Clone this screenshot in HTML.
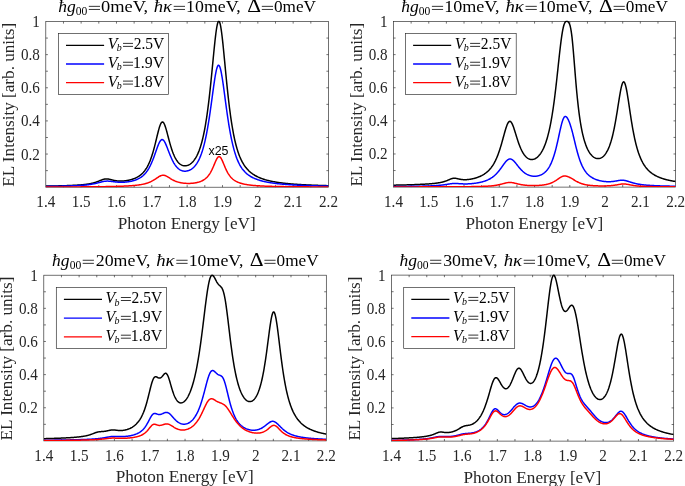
<!DOCTYPE html><html><head><meta charset="utf-8"><style>html,body{margin:0;padding:0;background:#fff;overflow:hidden}svg{display:block;filter:blur(0.3px)}text{font-family:"Liberation Serif",serif}</style></head><body>
<svg width="685" height="486" viewBox="0 0 685 486">
<rect width="685" height="486" fill="#fff"/><g opacity="0.999">
<clipPath id="cs1"><rect x="45.80" y="20.50" width="282.70" height="166.70"/></clipPath>
<rect x="45.80" y="21.50" width="282.70" height="165.70" fill="none" stroke="#262626" stroke-width="0.65"/>
<path d="M63.47 187.20v-2.1M63.47 21.50v2.1M81.14 187.20v-2.1M81.14 21.50v2.1M98.81 187.20v-2.1M98.81 21.50v2.1M116.47 187.20v-2.1M116.47 21.50v2.1M134.14 187.20v-2.1M134.14 21.50v2.1M151.81 187.20v-2.1M151.81 21.50v2.1M169.48 187.20v-2.1M169.48 21.50v2.1M187.15 187.20v-2.1M187.15 21.50v2.1M204.82 187.20v-2.1M204.82 21.50v2.1M222.49 187.20v-2.1M222.49 21.50v2.1M240.16 187.20v-2.1M240.16 21.50v2.1M257.83 187.20v-2.1M257.83 21.50v2.1M275.49 187.20v-2.1M275.49 21.50v2.1M293.16 187.20v-2.1M293.16 21.50v2.1M310.83 187.20v-2.1M310.83 21.50v2.1M45.80 170.63h2.1M328.50 170.63h-2.1M45.80 154.06h2.1M328.50 154.06h-2.1M45.80 137.49h2.1M328.50 137.49h-2.1M45.80 120.92h2.1M328.50 120.92h-2.1M45.80 104.35h2.1M328.50 104.35h-2.1M45.80 87.78h2.1M328.50 87.78h-2.1M45.80 71.21h2.1M328.50 71.21h-2.1M45.80 54.64h2.1M328.50 54.64h-2.1M45.80 38.07h2.1M328.50 38.07h-2.1" stroke="#262626" stroke-width="0.65" fill="none"/>
<polyline clip-path="url(#cs1)" points="45.80,186.13 46.24,186.12 46.68,186.12 47.13,186.11 47.57,186.10 48.01,186.09 48.45,186.08 48.89,186.08 49.33,186.07 49.78,186.06 50.22,186.05 50.66,186.04 51.10,186.03 51.54,186.02 51.98,186.02 52.43,186.01 52.87,186.00 53.31,185.99 53.75,185.98 54.19,185.97 54.63,185.96 55.08,185.95 55.52,185.94 55.96,185.93 56.40,185.92 56.84,185.91 57.28,185.90 57.73,185.89 58.17,185.88 58.61,185.86 59.05,185.85 59.49,185.84 59.94,185.83 60.38,185.82 60.82,185.81 61.26,185.79 61.70,185.78 62.14,185.77 62.59,185.75 63.03,185.74 63.47,185.73 63.91,185.71 64.35,185.70 64.79,185.69 65.24,185.67 65.68,185.66 66.12,185.64 66.56,185.63 67.00,185.61 67.44,185.59 67.89,185.58 68.33,185.56 68.77,185.54 69.21,185.53 69.65,185.51 70.09,185.49 70.54,185.47 70.98,185.45 71.42,185.43 71.86,185.41 72.30,185.39 72.74,185.37 73.19,185.35 73.63,185.33 74.07,185.30 74.51,185.28 74.95,185.26 75.40,185.23 75.84,185.21 76.28,185.18 76.72,185.16 77.16,185.13 77.60,185.10 78.05,185.07 78.49,185.04 78.93,185.01 79.37,184.98 79.81,184.95 80.25,184.91 80.70,184.88 81.14,184.84 81.58,184.80 82.02,184.77 82.46,184.73 82.90,184.68 83.35,184.64 83.79,184.59 84.23,184.55 84.67,184.50 85.11,184.45 85.55,184.40 86.00,184.34 86.44,184.28 86.88,184.22 87.32,184.16 87.76,184.09 88.21,184.03 88.65,183.95 89.09,183.88 89.53,183.80 89.97,183.72 90.41,183.63 90.86,183.54 91.30,183.45 91.74,183.35 92.18,183.25 92.62,183.14 93.06,183.03 93.51,182.91 93.95,182.79 94.39,182.66 94.83,182.53 95.27,182.39 95.71,182.25 96.16,182.10 96.60,181.95 97.04,181.79 97.48,181.62 97.92,181.45 98.36,181.28 98.81,181.10 99.25,180.92 99.69,180.74 100.13,180.56 100.57,180.38 101.01,180.21 101.46,180.03 101.90,179.86 102.34,179.70 102.78,179.55 103.22,179.41 103.67,179.29 104.11,179.18 104.55,179.09 104.99,179.01 105.43,178.96 105.87,178.92 106.32,178.91 106.76,178.91 107.20,178.94 107.64,178.98 108.08,179.03 108.52,179.10 108.97,179.18 109.41,179.27 109.85,179.37 110.29,179.48 110.73,179.59 111.17,179.70 111.62,179.81 112.06,179.92 112.50,180.03 112.94,180.13 113.38,180.23 113.82,180.33 114.27,180.42 114.71,180.51 115.15,180.59 115.59,180.66 116.03,180.73 116.48,180.79 116.92,180.85 117.36,180.90 117.80,180.94 118.24,180.98 118.68,181.01 119.13,181.03 119.57,181.05 120.01,181.06 120.45,181.07 120.89,181.07 121.33,181.06 121.78,181.05 122.22,181.03 122.66,181.01 123.10,180.98 123.54,180.95 123.98,180.91 124.43,180.87 124.87,180.82 125.31,180.77 125.75,180.71 126.19,180.65 126.63,180.58 127.08,180.51 127.52,180.43 127.96,180.35 128.40,180.26 128.84,180.17 129.28,180.07 129.73,179.97 130.17,179.86 130.61,179.74 131.05,179.62 131.49,179.49 131.94,179.36 132.38,179.22 132.82,179.07 133.26,178.92 133.70,178.75 134.14,178.59 134.59,178.41 135.03,178.22 135.47,178.03 135.91,177.82 136.35,177.61 136.79,177.39 137.24,177.15 137.68,176.91 138.12,176.65 138.56,176.38 139.00,176.09 139.44,175.79 139.89,175.47 140.33,175.14 140.77,174.79 141.21,174.43 141.65,174.04 142.09,173.63 142.54,173.20 142.98,172.75 143.42,172.27 143.86,171.76 144.30,171.23 144.75,170.66 145.19,170.07 145.63,169.44 146.07,168.77 146.51,168.07 146.95,167.33 147.40,166.55 147.84,165.72 148.28,164.85 148.72,163.93 149.16,162.96 149.60,161.94 150.05,160.86 150.49,159.73 150.93,158.53 151.37,157.28 151.81,155.97 152.25,154.60 152.70,153.16 153.14,151.66 153.58,150.11 154.02,148.49 154.46,146.82 154.90,145.10 155.35,143.34 155.79,141.54 156.23,139.71 156.67,137.88 157.11,136.04 157.55,134.23 158.00,132.45 158.44,130.74 158.88,129.11 159.32,127.59 159.76,126.20 160.21,124.97 160.65,123.93 161.09,123.09 161.53,122.48 161.97,122.09 162.41,121.95 162.86,122.06 163.30,122.40 163.74,122.97 164.18,123.75 164.62,124.73 165.06,125.89 165.51,127.19 165.95,128.62 166.39,130.14 166.83,131.74 167.27,133.39 167.71,135.07 168.16,136.76 168.60,138.44 169.04,140.11 169.48,141.74 169.92,143.34 170.36,144.88 170.81,146.37 171.25,147.80 171.69,149.18 172.13,150.48 172.57,151.73 173.02,152.91 173.46,154.03 173.90,155.08 174.34,156.07 174.78,157.00 175.22,157.87 175.67,158.69 176.11,159.45 176.55,160.15 176.99,160.81 177.43,161.41 177.87,161.97 178.32,162.49 178.76,162.96 179.20,163.39 179.64,163.78 180.08,164.13 180.52,164.44 180.97,164.72 181.41,164.97 181.85,165.18 182.29,165.36 182.73,165.51 183.17,165.63 183.62,165.72 184.06,165.79 184.50,165.83 184.94,165.84 185.38,165.82 185.82,165.78 186.27,165.72 186.71,165.63 187.15,165.51 187.59,165.38 188.03,165.21 188.48,165.02 188.92,164.81 189.36,164.57 189.80,164.30 190.24,164.01 190.68,163.69 191.13,163.34 191.57,162.96 192.01,162.56 192.45,162.12 192.89,161.65 193.33,161.15 193.78,160.61 194.22,160.04 194.66,159.43 195.10,158.78 195.54,158.08 195.98,157.34 196.43,156.56 196.87,155.73 197.31,154.84 197.75,153.90 198.19,152.90 198.63,151.85 199.08,150.73 199.52,149.54 199.96,148.28 200.40,146.94 200.84,145.53 201.29,144.03 201.73,142.44 202.17,140.76 202.61,138.99 203.05,137.11 203.49,135.13 203.94,133.03 204.38,130.82 204.82,128.49 205.26,126.03 205.70,123.44 206.14,120.71 206.59,117.84 207.03,114.83 207.47,111.67 207.91,108.37 208.35,104.91 208.79,101.30 209.24,97.54 209.68,93.64 210.12,89.59 210.56,85.41 211.00,81.12 211.44,76.71 211.89,72.22 212.33,67.67 212.77,63.08 213.21,58.50 213.65,53.95 214.09,49.48 214.54,45.15 214.98,41.00 215.42,37.09 215.86,33.49 216.30,30.25 216.75,27.43 217.19,25.08 217.63,23.24 218.07,21.97 218.51,21.27 218.95,21.18 219.40,21.69 219.84,22.79 220.28,24.46 220.72,26.66 221.16,29.35 221.60,32.48 222.05,36.00 222.49,39.84 222.93,43.95 223.37,48.27 223.81,52.74 224.25,57.31 224.70,61.94 225.14,66.59 225.58,71.21 226.02,75.78 226.46,80.27 226.90,84.67 227.35,88.95 227.79,93.10 228.23,97.12 228.67,100.99 229.11,104.72 229.56,108.29 230.00,111.72 230.44,115.00 230.88,118.13 231.32,121.11 231.76,123.96 232.21,126.67 232.65,129.24 233.09,131.69 233.53,134.02 233.97,136.23 234.41,138.33 234.86,140.32 235.30,142.21 235.74,144.00 236.18,145.70 236.62,147.32 237.06,148.85 237.51,150.30 237.95,151.67 238.39,152.98 238.83,154.22 239.27,155.39 239.71,156.51 240.16,157.57 240.60,158.58 241.04,159.54 241.48,160.46 241.92,161.32 242.36,162.15 242.81,162.94 243.25,163.69 243.69,164.41 244.13,165.09 244.57,165.75 245.02,166.37 245.46,166.97 245.90,167.54 246.34,168.09 246.78,168.62 247.22,169.12 247.67,169.60 248.11,170.06 248.55,170.51 248.99,170.94 249.43,171.35 249.87,171.75 250.32,172.13 250.76,172.49 251.20,172.85 251.64,173.19 252.08,173.52 252.52,173.84 252.97,174.14 253.41,174.44 253.85,174.72 254.29,175.00 254.73,175.27 255.17,175.53 255.62,175.78 256.06,176.02 256.50,176.25 256.94,176.48 257.38,176.70 257.83,176.92 258.27,177.12 258.71,177.32 259.15,177.52 259.59,177.71 260.03,177.89 260.48,178.07 260.92,178.24 261.36,178.41 261.80,178.58 262.24,178.74 262.68,178.89 263.13,179.04 263.57,179.19 264.01,179.33 264.45,179.47 264.89,179.60 265.33,179.74 265.78,179.86 266.22,179.99 266.66,180.11 267.10,180.23 267.54,180.35 267.98,180.46 268.43,180.57 268.87,180.68 269.31,180.78 269.75,180.88 270.19,180.98 270.63,181.08 271.08,181.17 271.52,181.27 271.96,181.36 272.40,181.45 272.84,181.53 273.29,181.62 273.73,181.70 274.17,181.78 274.61,181.86 275.05,181.94 275.49,182.01 275.94,182.09 276.38,182.16 276.82,182.23 277.26,182.30 277.70,182.37 278.14,182.43 278.59,182.50 279.03,182.56 279.47,182.62 279.91,182.69 280.35,182.75 280.79,182.80 281.24,182.86 281.68,182.92 282.12,182.97 282.56,183.03 283.00,183.08 283.44,183.13 283.89,183.18 284.33,183.23 284.77,183.28 285.21,183.33 285.65,183.38 286.10,183.43 286.54,183.47 286.98,183.52 287.42,183.56 287.86,183.60 288.30,183.65 288.75,183.69 289.19,183.73 289.63,183.77 290.07,183.81 290.51,183.85 290.95,183.88 291.40,183.92 291.84,183.96 292.28,183.99 292.72,184.03 293.16,184.06 293.60,184.10 294.05,184.13 294.49,184.17 294.93,184.20 295.37,184.23 295.81,184.26 296.25,184.29 296.70,184.32 297.14,184.35 297.58,184.38 298.02,184.41 298.46,184.44 298.90,184.47 299.35,184.50 299.79,184.53 300.23,184.55 300.67,184.58 301.11,184.60 301.56,184.63 302.00,184.66 302.44,184.68 302.88,184.71 303.32,184.73 303.76,184.75 304.21,184.78 304.65,184.80 305.09,184.82 305.53,184.85 305.97,184.87 306.41,184.89 306.86,184.91 307.30,184.93 307.74,184.95 308.18,184.97 308.62,184.99 309.06,185.01 309.51,185.03 309.95,185.05 310.39,185.07 310.83,185.09 311.27,185.11 311.71,185.13 312.16,185.15 312.60,185.16 313.04,185.18 313.48,185.20 313.92,185.22 314.37,185.23 314.81,185.25 315.25,185.27 315.69,185.28 316.13,185.30 316.57,185.32 317.02,185.33 317.46,185.35 317.90,185.36 318.34,185.38 318.78,185.39 319.22,185.41 319.67,185.42 320.11,185.44 320.55,185.45 320.99,185.46 321.43,185.48 321.87,185.49 322.32,185.51 322.76,185.52 323.20,185.53 323.64,185.55 324.08,185.56 324.52,185.57 324.97,185.58 325.41,185.60 325.85,185.61 326.29,185.62 326.73,185.63 327.17,185.64 327.62,185.66 328.06,185.67 328.50,185.68" fill="none" stroke="#000000" stroke-width="1.5" stroke-linejoin="round"/>
<polyline clip-path="url(#cs1)" points="45.80,186.41 46.24,186.41 46.68,186.40 47.13,186.40 47.57,186.39 48.01,186.38 48.45,186.38 48.89,186.37 49.33,186.36 49.78,186.36 50.22,186.35 50.66,186.34 51.10,186.34 51.54,186.33 51.98,186.32 52.43,186.32 52.87,186.31 53.31,186.30 53.75,186.29 54.19,186.29 54.63,186.28 55.08,186.27 55.52,186.26 55.96,186.25 56.40,186.25 56.84,186.24 57.28,186.23 57.73,186.22 58.17,186.21 58.61,186.20 59.05,186.19 59.49,186.18 59.94,186.17 60.38,186.16 60.82,186.16 61.26,186.15 61.70,186.14 62.14,186.12 62.59,186.11 63.03,186.10 63.47,186.09 63.91,186.08 64.35,186.07 64.79,186.06 65.24,186.05 65.68,186.04 66.12,186.02 66.56,186.01 67.00,186.00 67.44,185.99 67.89,185.97 68.33,185.96 68.77,185.95 69.21,185.93 69.65,185.92 70.09,185.90 70.54,185.89 70.98,185.87 71.42,185.86 71.86,185.84 72.30,185.82 72.74,185.81 73.19,185.79 73.63,185.77 74.07,185.75 74.51,185.74 74.95,185.72 75.40,185.70 75.84,185.68 76.28,185.66 76.72,185.63 77.16,185.61 77.60,185.59 78.05,185.57 78.49,185.54 78.93,185.52 79.37,185.49 79.81,185.46 80.25,185.44 80.70,185.41 81.14,185.38 81.58,185.35 82.02,185.32 82.46,185.28 82.90,185.25 83.35,185.22 83.79,185.18 84.23,185.14 84.67,185.10 85.11,185.06 85.55,185.02 86.00,184.97 86.44,184.93 86.88,184.88 87.32,184.83 87.76,184.78 88.21,184.72 88.65,184.67 89.09,184.61 89.53,184.55 89.97,184.48 90.41,184.42 90.86,184.35 91.30,184.28 91.74,184.20 92.18,184.13 92.62,184.05 93.06,183.97 93.51,183.88 93.95,183.79 94.39,183.70 94.83,183.61 95.27,183.51 95.71,183.41 96.16,183.31 96.60,183.20 97.04,183.09 97.48,182.98 97.92,182.87 98.36,182.75 98.81,182.64 99.25,182.52 99.69,182.41 100.13,182.29 100.57,182.17 101.01,182.06 101.46,181.95 101.90,181.84 102.34,181.74 102.78,181.64 103.22,181.54 103.67,181.46 104.11,181.38 104.55,181.31 104.99,181.25 105.43,181.20 105.87,181.16 106.32,181.13 106.76,181.11 107.20,181.10 107.64,181.10 108.08,181.11 108.52,181.13 108.97,181.16 109.41,181.19 109.85,181.23 110.29,181.28 110.73,181.33 111.17,181.38 111.62,181.44 112.06,181.50 112.50,181.56 112.94,181.62 113.38,181.68 113.82,181.74 114.27,181.80 114.71,181.85 115.15,181.91 115.59,181.96 116.03,182.00 116.48,182.05 116.92,182.09 117.36,182.12 117.80,182.16 118.24,182.19 118.68,182.21 119.13,182.23 119.57,182.25 120.01,182.26 120.45,182.27 120.89,182.28 121.33,182.28 121.78,182.28 122.22,182.27 122.66,182.26 123.10,182.24 123.54,182.22 123.98,182.20 124.43,182.17 124.87,182.14 125.31,182.11 125.75,182.07 126.19,182.02 126.63,181.97 127.08,181.92 127.52,181.87 127.96,181.81 128.40,181.74 128.84,181.67 129.28,181.60 129.73,181.52 130.17,181.44 130.61,181.35 131.05,181.26 131.49,181.16 131.94,181.06 132.38,180.95 132.82,180.84 133.26,180.72 133.70,180.59 134.14,180.46 134.59,180.32 135.03,180.17 135.47,180.02 135.91,179.86 136.35,179.69 136.79,179.51 137.24,179.32 137.68,179.12 138.12,178.91 138.56,178.69 139.00,178.46 139.44,178.22 139.89,177.96 140.33,177.69 140.77,177.40 141.21,177.10 141.65,176.78 142.09,176.45 142.54,176.09 142.98,175.72 143.42,175.32 143.86,174.91 144.30,174.47 144.75,174.00 145.19,173.52 145.63,173.00 146.07,172.46 146.51,171.88 146.95,171.28 147.40,170.65 147.84,169.98 148.28,169.27 148.72,168.54 149.16,167.76 149.60,166.95 150.05,166.10 150.49,165.21 150.93,164.28 151.37,163.32 151.81,162.31 152.25,161.26 152.70,160.18 153.14,159.06 153.58,157.90 154.02,156.71 154.46,155.50 154.90,154.26 155.35,153.01 155.79,151.75 156.23,150.48 156.67,149.23 157.11,147.99 157.55,146.79 158.00,145.63 158.44,144.53 158.88,143.51 159.32,142.57 159.76,141.74 160.21,141.03 160.65,140.45 161.09,140.01 161.53,139.72 161.97,139.58 162.41,139.60 162.86,139.78 163.30,140.10 163.74,140.56 164.18,141.16 164.62,141.87 165.06,142.69 165.51,143.60 165.95,144.59 166.39,145.63 166.83,146.73 167.27,147.85 167.71,149.00 168.16,150.16 168.60,151.31 169.04,152.46 169.48,153.59 169.92,154.69 170.36,155.77 170.81,156.81 171.25,157.82 171.69,158.79 172.13,159.72 172.57,160.61 173.02,161.46 173.46,162.27 173.90,163.04 174.34,163.76 174.78,164.45 175.22,165.09 175.67,165.69 176.11,166.26 176.55,166.79 176.99,167.28 177.43,167.74 177.87,168.17 178.32,168.56 178.76,168.92 179.20,169.25 179.64,169.55 180.08,169.82 180.52,170.06 180.97,170.28 181.41,170.47 181.85,170.64 182.29,170.79 182.73,170.91 183.17,171.00 183.62,171.08 184.06,171.14 184.50,171.17 184.94,171.18 185.38,171.18 185.82,171.15 186.27,171.11 186.71,171.04 187.15,170.96 187.59,170.85 188.03,170.73 188.48,170.59 188.92,170.43 189.36,170.24 189.80,170.04 190.24,169.82 190.68,169.57 191.13,169.31 191.57,169.02 192.01,168.71 192.45,168.37 192.89,168.01 193.33,167.62 193.78,167.20 194.22,166.75 194.66,166.27 195.10,165.76 195.54,165.22 195.98,164.64 196.43,164.02 196.87,163.37 197.31,162.67 197.75,161.93 198.19,161.14 198.63,160.30 199.08,159.41 199.52,158.47 199.96,157.47 200.40,156.41 200.84,155.28 201.29,154.09 201.73,152.83 202.17,151.50 202.61,150.10 203.05,148.61 203.49,147.05 203.94,145.39 204.38,143.65 204.82,141.82 205.26,139.89 205.70,137.87 206.14,135.75 206.59,133.53 207.03,131.20 207.47,128.77 207.91,126.24 208.35,123.60 208.79,120.86 209.24,118.03 209.68,115.10 210.12,112.09 210.56,108.99 211.00,105.83 211.44,102.61 211.89,99.36 212.33,96.08 212.77,92.81 213.21,89.56 213.65,86.38 214.09,83.28 214.54,80.31 214.98,77.50 215.42,74.89 215.86,72.53 216.30,70.43 216.75,68.66 217.19,67.22 217.63,66.16 218.07,65.50 218.51,65.24 218.95,65.39 219.40,65.95 219.84,66.91 220.28,68.25 220.72,69.95 221.16,71.98 221.60,74.29 222.05,76.86 222.49,79.64 222.93,82.59 223.37,85.69 223.81,88.89 224.25,92.15 224.70,95.46 225.14,98.78 225.58,102.08 226.02,105.36 226.46,108.58 226.90,111.74 227.35,114.83 227.79,117.83 228.23,120.74 228.67,123.56 229.11,126.28 229.56,128.89 230.00,131.40 230.44,133.81 230.88,136.12 231.32,138.33 231.76,140.43 232.21,142.45 232.65,144.36 233.09,146.19 233.53,147.92 233.97,149.58 234.41,151.14 234.86,152.64 235.30,154.05 235.74,155.39 236.18,156.67 236.62,157.88 237.06,159.03 237.51,160.11 237.95,161.14 238.39,162.12 238.83,163.05 239.27,163.93 239.71,164.76 240.16,165.55 240.60,166.31 241.04,167.02 241.48,167.70 241.92,168.34 242.36,168.95 242.81,169.54 243.25,170.09 243.69,170.62 244.13,171.12 244.57,171.60 245.02,172.06 245.46,172.50 245.90,172.92 246.34,173.32 246.78,173.70 247.22,174.07 247.67,174.42 248.11,174.76 248.55,175.08 248.99,175.39 249.43,175.69 249.87,175.98 250.32,176.25 250.76,176.52 251.20,176.78 251.64,177.02 252.08,177.26 252.52,177.49 252.97,177.71 253.41,177.93 253.85,178.13 254.29,178.33 254.73,178.53 255.17,178.71 255.62,178.90 256.06,179.07 256.50,179.24 256.94,179.41 257.38,179.56 257.83,179.72 258.27,179.87 258.71,180.02 259.15,180.16 259.59,180.29 260.03,180.43 260.48,180.56 260.92,180.68 261.36,180.80 261.80,180.92 262.24,181.04 262.68,181.15 263.13,181.26 263.57,181.37 264.01,181.47 264.45,181.57 264.89,181.67 265.33,181.76 265.78,181.86 266.22,181.95 266.66,182.04 267.10,182.12 267.54,182.21 267.98,182.29 268.43,182.37 268.87,182.45 269.31,182.52 269.75,182.60 270.19,182.67 270.63,182.74 271.08,182.81 271.52,182.88 271.96,182.95 272.40,183.01 272.84,183.07 273.29,183.13 273.73,183.19 274.17,183.25 274.61,183.31 275.05,183.37 275.49,183.42 275.94,183.48 276.38,183.53 276.82,183.58 277.26,183.63 277.70,183.68 278.14,183.73 278.59,183.78 279.03,183.82 279.47,183.87 279.91,183.91 280.35,183.96 280.79,184.00 281.24,184.04 281.68,184.08 282.12,184.13 282.56,184.17 283.00,184.20 283.44,184.24 283.89,184.28 284.33,184.32 284.77,184.35 285.21,184.39 285.65,184.42 286.10,184.46 286.54,184.49 286.98,184.52 287.42,184.55 287.86,184.59 288.30,184.62 288.75,184.65 289.19,184.68 289.63,184.71 290.07,184.74 290.51,184.76 290.95,184.79 291.40,184.82 291.84,184.85 292.28,184.87 292.72,184.90 293.16,184.93 293.60,184.95 294.05,184.98 294.49,185.00 294.93,185.02 295.37,185.05 295.81,185.07 296.25,185.09 296.70,185.12 297.14,185.14 297.58,185.16 298.02,185.18 298.46,185.20 298.90,185.22 299.35,185.24 299.79,185.26 300.23,185.28 300.67,185.30 301.11,185.32 301.56,185.34 302.00,185.36 302.44,185.38 302.88,185.40 303.32,185.41 303.76,185.43 304.21,185.45 304.65,185.47 305.09,185.48 305.53,185.50 305.97,185.52 306.41,185.53 306.86,185.55 307.30,185.56 307.74,185.58 308.18,185.59 308.62,185.61 309.06,185.62 309.51,185.64 309.95,185.65 310.39,185.67 310.83,185.68 311.27,185.69 311.71,185.71 312.16,185.72 312.60,185.73 313.04,185.75 313.48,185.76 313.92,185.77 314.37,185.79 314.81,185.80 315.25,185.81 315.69,185.82 316.13,185.83 316.57,185.85 317.02,185.86 317.46,185.87 317.90,185.88 318.34,185.89 318.78,185.90 319.22,185.91 319.67,185.92 320.11,185.93 320.55,185.94 320.99,185.96 321.43,185.97 321.87,185.98 322.32,185.99 322.76,186.00 323.20,186.01 323.64,186.01 324.08,186.02 324.52,186.03 324.97,186.04 325.41,186.05 325.85,186.06 326.29,186.07 326.73,186.08 327.17,186.09 327.62,186.10 328.06,186.10 328.50,186.11" fill="none" stroke="#0000ff" stroke-width="1.5" stroke-linejoin="round"/>
<polyline clip-path="url(#cs1)" points="45.80,187.01 46.24,187.01 46.68,187.01 47.13,187.01 47.57,187.01 48.01,187.01 48.45,187.01 48.89,187.01 49.33,187.01 49.78,187.00 50.22,187.00 50.66,187.00 51.10,187.00 51.54,187.00 51.98,187.00 52.43,187.00 52.87,187.00 53.31,186.99 53.75,186.99 54.19,186.99 54.63,186.99 55.08,186.99 55.52,186.99 55.96,186.99 56.40,186.99 56.84,186.98 57.28,186.98 57.73,186.98 58.17,186.98 58.61,186.98 59.05,186.98 59.49,186.98 59.94,186.97 60.38,186.97 60.82,186.97 61.26,186.97 61.70,186.97 62.14,186.97 62.59,186.96 63.03,186.96 63.47,186.96 63.91,186.96 64.35,186.96 64.79,186.96 65.24,186.95 65.68,186.95 66.12,186.95 66.56,186.95 67.00,186.95 67.44,186.95 67.89,186.94 68.33,186.94 68.77,186.94 69.21,186.94 69.65,186.94 70.09,186.93 70.54,186.93 70.98,186.93 71.42,186.93 71.86,186.93 72.30,186.92 72.74,186.92 73.19,186.92 73.63,186.92 74.07,186.91 74.51,186.91 74.95,186.91 75.40,186.91 75.84,186.91 76.28,186.90 76.72,186.90 77.16,186.90 77.60,186.90 78.05,186.89 78.49,186.89 78.93,186.89 79.37,186.89 79.81,186.88 80.25,186.88 80.70,186.88 81.14,186.87 81.58,186.87 82.02,186.87 82.46,186.87 82.90,186.86 83.35,186.86 83.79,186.86 84.23,186.85 84.67,186.85 85.11,186.85 85.55,186.84 86.00,186.84 86.44,186.84 86.88,186.83 87.32,186.83 87.76,186.83 88.21,186.82 88.65,186.82 89.09,186.82 89.53,186.81 89.97,186.81 90.41,186.80 90.86,186.80 91.30,186.80 91.74,186.79 92.18,186.79 92.62,186.78 93.06,186.78 93.51,186.78 93.95,186.77 94.39,186.77 94.83,186.76 95.27,186.76 95.71,186.75 96.16,186.75 96.60,186.74 97.04,186.74 97.48,186.73 97.92,186.73 98.36,186.72 98.81,186.72 99.25,186.71 99.69,186.71 100.13,186.70 100.57,186.70 101.01,186.69 101.46,186.68 101.90,186.68 102.34,186.67 102.78,186.67 103.22,186.66 103.67,186.65 104.11,186.65 104.55,186.64 104.99,186.63 105.43,186.63 105.87,186.62 106.32,186.61 106.76,186.60 107.20,186.60 107.64,186.59 108.08,186.58 108.52,186.57 108.97,186.56 109.41,186.56 109.85,186.55 110.29,186.54 110.73,186.53 111.17,186.52 111.62,186.51 112.06,186.50 112.50,186.49 112.94,186.48 113.38,186.47 113.82,186.46 114.27,186.45 114.71,186.44 115.15,186.43 115.59,186.41 116.03,186.40 116.48,186.39 116.92,186.38 117.36,186.36 117.80,186.35 118.24,186.34 118.68,186.32 119.13,186.31 119.57,186.29 120.01,186.28 120.45,186.26 120.89,186.25 121.33,186.23 121.78,186.21 122.22,186.20 122.66,186.18 123.10,186.16 123.54,186.14 123.98,186.12 124.43,186.10 124.87,186.08 125.31,186.06 125.75,186.04 126.19,186.02 126.63,185.99 127.08,185.97 127.52,185.95 127.96,185.92 128.40,185.90 128.84,185.87 129.28,185.84 129.73,185.81 130.17,185.78 130.61,185.75 131.05,185.72 131.49,185.69 131.94,185.65 132.38,185.62 132.82,185.58 133.26,185.54 133.70,185.50 134.14,185.46 134.59,185.42 135.03,185.38 135.47,185.33 135.91,185.28 136.35,185.24 136.79,185.19 137.24,185.13 137.68,185.08 138.12,185.02 138.56,184.96 139.00,184.90 139.44,184.83 139.89,184.77 140.33,184.70 140.77,184.62 141.21,184.55 141.65,184.47 142.09,184.38 142.54,184.30 142.98,184.21 143.42,184.11 143.86,184.01 144.30,183.91 144.75,183.80 145.19,183.68 145.63,183.56 146.07,183.44 146.51,183.31 146.95,183.17 147.40,183.03 147.84,182.88 148.28,182.72 148.72,182.56 149.16,182.38 149.60,182.20 150.05,182.02 150.49,181.82 150.93,181.61 151.37,181.40 151.81,181.17 152.25,180.94 152.70,180.70 153.14,180.45 153.58,180.19 154.02,179.92 154.46,179.64 154.90,179.36 155.35,179.07 155.79,178.78 156.23,178.48 156.67,178.18 157.11,177.88 157.55,177.58 158.00,177.29 158.44,177.00 158.88,176.73 159.32,176.47 159.76,176.22 160.21,176.00 160.65,175.80 161.09,175.63 161.53,175.48 161.97,175.37 162.41,175.30 162.86,175.26 163.30,175.25 163.74,175.28 164.18,175.35 164.62,175.44 165.06,175.57 165.51,175.73 165.95,175.92 166.39,176.13 166.83,176.36 167.27,176.60 167.71,176.86 168.16,177.13 168.60,177.40 169.04,177.68 169.48,177.96 169.92,178.24 170.36,178.52 170.81,178.79 171.25,179.05 171.69,179.31 172.13,179.57 172.57,179.81 173.02,180.05 173.46,180.27 173.90,180.49 174.34,180.70 174.78,180.90 175.22,181.08 175.67,181.26 176.11,181.43 176.55,181.59 176.99,181.75 177.43,181.89 177.87,182.03 178.32,182.15 178.76,182.27 179.20,182.39 179.64,182.49 180.08,182.59 180.52,182.68 180.97,182.77 181.41,182.85 181.85,182.92 182.29,182.99 182.73,183.05 183.17,183.11 183.62,183.16 184.06,183.20 184.50,183.25 184.94,183.28 185.38,183.32 185.82,183.34 186.27,183.37 186.71,183.38 187.15,183.40 187.59,183.41 188.03,183.42 188.48,183.42 188.92,183.41 189.36,183.41 189.80,183.40 190.24,183.38 190.68,183.36 191.13,183.34 191.57,183.31 192.01,183.27 192.45,183.24 192.89,183.19 193.33,183.15 193.78,183.09 194.22,183.04 194.66,182.97 195.10,182.90 195.54,182.83 195.98,182.75 196.43,182.66 196.87,182.56 197.31,182.46 197.75,182.35 198.19,182.24 198.63,182.11 199.08,181.98 199.52,181.84 199.96,181.68 200.40,181.52 200.84,181.34 201.29,181.16 201.73,180.96 202.17,180.74 202.61,180.52 203.05,180.27 203.49,180.01 203.94,179.74 204.38,179.44 204.82,179.12 205.26,178.78 205.70,178.42 206.14,178.03 206.59,177.62 207.03,177.18 207.47,176.70 207.91,176.20 208.35,175.65 208.79,175.08 209.24,174.46 209.68,173.80 210.12,173.10 210.56,172.36 211.00,171.57 211.44,170.74 211.89,169.86 212.33,168.94 212.77,167.98 213.21,166.98 213.65,165.95 214.09,164.90 214.54,163.84 214.98,162.79 215.42,161.75 215.86,160.75 216.30,159.81 216.75,158.95 217.19,158.20 217.63,157.57 218.07,157.09 218.51,156.76 218.95,156.62 219.40,156.65 219.84,156.85 220.28,157.23 220.72,157.77 221.16,158.45 221.60,159.24 222.05,160.14 222.49,161.11 222.93,162.13 223.37,163.19 223.81,164.26 224.25,165.33 224.70,166.39 225.14,167.42 225.58,168.43 226.02,169.39 226.46,170.32 226.90,171.20 227.35,172.03 227.79,172.82 228.23,173.57 228.67,174.27 229.11,174.93 229.56,175.56 230.00,176.14 230.44,176.69 230.88,177.20 231.32,177.68 231.76,178.13 232.21,178.56 232.65,178.96 233.09,179.33 233.53,179.68 233.97,180.01 234.41,180.32 234.86,180.61 235.30,180.89 235.74,181.15 236.18,181.39 236.62,181.62 237.06,181.84 237.51,182.04 237.95,182.24 238.39,182.42 238.83,182.60 239.27,182.76 239.71,182.92 240.16,183.07 240.60,183.21 241.04,183.34 241.48,183.47 241.92,183.59 242.36,183.71 242.81,183.82 243.25,183.92 243.69,184.02 244.13,184.12 244.57,184.21 245.02,184.30 245.46,184.38 245.90,184.46 246.34,184.54 246.78,184.61 247.22,184.68 247.67,184.75 248.11,184.81 248.55,184.87 248.99,184.93 249.43,184.99 249.87,185.05 250.32,185.10 250.76,185.15 251.20,185.20 251.64,185.25 252.08,185.29 252.52,185.34 252.97,185.38 253.41,185.42 253.85,185.46 254.29,185.50 254.73,185.54 255.17,185.57 255.62,185.61 256.06,185.64 256.50,185.67 256.94,185.71 257.38,185.74 257.83,185.77 258.27,185.79 258.71,185.82 259.15,185.85 259.59,185.87 260.03,185.90 260.48,185.92 260.92,185.95 261.36,185.97 261.80,185.99 262.24,186.02 262.68,186.04 263.13,186.06 263.57,186.08 264.01,186.10 264.45,186.12 264.89,186.13 265.33,186.15 265.78,186.17 266.22,186.19 266.66,186.20 267.10,186.22 267.54,186.24 267.98,186.25 268.43,186.27 268.87,186.28 269.31,186.29 269.75,186.31 270.19,186.32 270.63,186.34 271.08,186.35 271.52,186.36 271.96,186.37 272.40,186.39 272.84,186.40 273.29,186.41 273.73,186.42 274.17,186.43 274.61,186.44 275.05,186.45 275.49,186.46 275.94,186.47 276.38,186.48 276.82,186.49 277.26,186.50 277.70,186.51 278.14,186.52 278.59,186.53 279.03,186.54 279.47,186.55 279.91,186.55 280.35,186.56 280.79,186.57 281.24,186.58 281.68,186.59 282.12,186.59 282.56,186.60 283.00,186.61 283.44,186.62 283.89,186.62 284.33,186.63 284.77,186.64 285.21,186.64 285.65,186.65 286.10,186.66 286.54,186.66 286.98,186.67 287.42,186.67 287.86,186.68 288.30,186.69 288.75,186.69 289.19,186.70 289.63,186.70 290.07,186.71 290.51,186.71 290.95,186.72 291.40,186.72 291.84,186.73 292.28,186.73 292.72,186.74 293.16,186.74 293.60,186.75 294.05,186.75 294.49,186.76 294.93,186.76 295.37,186.77 295.81,186.77 296.25,186.77 296.70,186.78 297.14,186.78 297.58,186.79 298.02,186.79 298.46,186.79 298.90,186.80 299.35,186.80 299.79,186.81 300.23,186.81 300.67,186.81 301.11,186.82 301.56,186.82 302.00,186.82 302.44,186.83 302.88,186.83 303.32,186.83 303.76,186.84 304.21,186.84 304.65,186.84 305.09,186.85 305.53,186.85 305.97,186.85 306.41,186.86 306.86,186.86 307.30,186.86 307.74,186.87 308.18,186.87 308.62,186.87 309.06,186.87 309.51,186.88 309.95,186.88 310.39,186.88 310.83,186.88 311.27,186.89 311.71,186.89 312.16,186.89 312.60,186.89 313.04,186.90 313.48,186.90 313.92,186.90 314.37,186.90 314.81,186.91 315.25,186.91 315.69,186.91 316.13,186.91 316.57,186.92 317.02,186.92 317.46,186.92 317.90,186.92 318.34,186.92 318.78,186.93 319.22,186.93 319.67,186.93 320.11,186.93 320.55,186.93 320.99,186.94 321.43,186.94 321.87,186.94 322.32,186.94 322.76,186.94 323.20,186.95 323.64,186.95 324.08,186.95 324.52,186.95 324.97,186.95 325.41,186.95 325.85,186.96 326.29,186.96 326.73,186.96 327.17,186.96 327.62,186.96 328.06,186.96 328.50,186.97" fill="none" stroke="#ff0000" stroke-width="1.5" stroke-linejoin="round"/>
<text transform="translate(45.80,207.25) scale(0.97,1.07)" font-size="15.6" text-anchor="middle" fill="#262626">1.4</text>
<text transform="translate(81.14,207.25) scale(0.97,1.07)" font-size="15.6" text-anchor="middle" fill="#262626">1.5</text>
<text transform="translate(116.47,207.25) scale(0.97,1.07)" font-size="15.6" text-anchor="middle" fill="#262626">1.6</text>
<text transform="translate(151.81,207.25) scale(0.97,1.07)" font-size="15.6" text-anchor="middle" fill="#262626">1.7</text>
<text transform="translate(187.15,207.25) scale(0.97,1.07)" font-size="15.6" text-anchor="middle" fill="#262626">1.8</text>
<text transform="translate(222.49,207.25) scale(0.97,1.07)" font-size="15.6" text-anchor="middle" fill="#262626">1.9</text>
<text transform="translate(257.83,207.25) scale(0.97,1.07)" font-size="15.6" text-anchor="middle" fill="#262626">2</text>
<text transform="translate(293.16,207.25) scale(0.97,1.07)" font-size="15.6" text-anchor="middle" fill="#262626">2.1</text>
<text transform="translate(328.50,207.25) scale(0.97,1.07)" font-size="15.6" text-anchor="middle" fill="#262626">2.2</text>
<text transform="translate(39.90,159.56) scale(0.97,1.07)" font-size="15.6" text-anchor="end" fill="#262626">0.2</text>
<text transform="translate(39.90,126.42) scale(0.97,1.07)" font-size="15.6" text-anchor="end" fill="#262626">0.4</text>
<text transform="translate(39.90,93.28) scale(0.97,1.07)" font-size="15.6" text-anchor="end" fill="#262626">0.6</text>
<text transform="translate(39.90,60.14) scale(0.97,1.07)" font-size="15.6" text-anchor="end" fill="#262626">0.8</text>
<text transform="translate(39.90,27.00) scale(0.97,1.07)" font-size="15.6" text-anchor="end" fill="#262626">1</text>
<g transform="translate(117.70,228.70) scale(1.0048,1.0)"><text fill="#262626" font-size="17.1">Photon Energy [eV]</text></g>
<g transform="translate(13.90,186.70) rotate(-90) scale(1.0015,1)"><text fill="#262626" font-size="17.1">EL Intensity [arb. units]</text></g>
<g transform="translate(58.17,12.30) scale(1.0579,1.07)"><text fill="#000" font-size="16.6"><tspan font-style="italic">ħg</tspan><tspan font-size="10.96" dy="2.6">00</tspan></text></g>
<path d="M88.80 6.35H100.00M88.80 9.45H100.00" stroke="#000" stroke-width="0.8"/>
<g transform="translate(100.95,12.30) scale(1.1098,1.07)"><text fill="#000" font-size="16.6">0meV,</text></g>
<g transform="translate(153.63,12.30) scale(1.1313,1.07)"><text fill="#000" font-size="16.6" font-style="italic">ħκ</text></g>
<path d="M173.70 6.35H185.00M173.70 9.45H185.00" stroke="#000" stroke-width="0.8"/>
<g transform="translate(186.09,12.30) scale(1.0756,1.07)"><text fill="#000" font-size="16.6">10meV,</text></g>
<g transform="translate(247.15,12.30) scale(1.2947,1.07)"><text fill="#000" font-size="16.6">Δ</text></g>
<path d="M261.80 6.35H273.00M261.80 9.45H273.00" stroke="#000" stroke-width="0.8"/>
<g transform="translate(273.98,12.30) scale(1.0375,1.07)"><text fill="#000" font-size="16.6">0meV</text></g>
<rect x="58.40" y="33.50" width="110.2" height="60.9" fill="#fff" stroke="#262626" stroke-width="0.65"/>
<path d="M66.00 45.30H104.10" stroke="#000000" stroke-width="1.3"/>
<g transform="translate(107.71,48.80) scale(1.0500,1.05)"><text fill="#000" font-size="15.1" font-style="italic">V</text></g>
<g transform="translate(116.66,51.40) scale(0.9474,1.0)"><text fill="#000" font-size="10.57" font-style="italic">b</text></g>
<path d="M123.00 43.40H133.00M123.00 46.40H133.00" stroke="#000" stroke-width="0.8"/>
<g transform="translate(133.69,48.80) scale(1.0256,1.05)"><text fill="#000" font-size="15.1">2.5V</text></g>
<path d="M66.00 64.00H104.10" stroke="#0000ff" stroke-width="1.3"/>
<g transform="translate(107.71,67.65) scale(1.0500,1.05)"><text fill="#000" font-size="15.1" font-style="italic">V</text></g>
<g transform="translate(116.66,70.25) scale(0.9474,1.0)"><text fill="#000" font-size="10.57" font-style="italic">b</text></g>
<path d="M123.00 62.25H133.00M123.00 65.25H133.00" stroke="#000" stroke-width="0.8"/>
<g transform="translate(132.88,67.65) scale(1.0526,1.05)"><text fill="#000" font-size="15.1">1.9V</text></g>
<path d="M66.00 82.70H104.10" stroke="#ff0000" stroke-width="1.3"/>
<g transform="translate(107.71,86.50) scale(1.0500,1.05)"><text fill="#000" font-size="15.1" font-style="italic">V</text></g>
<g transform="translate(116.66,89.10) scale(0.9474,1.0)"><text fill="#000" font-size="10.57" font-style="italic">b</text></g>
<path d="M123.00 81.10H133.00M123.00 84.10H133.00" stroke="#000" stroke-width="0.8"/>
<g transform="translate(132.88,86.50) scale(1.0526,1.05)"><text fill="#000" font-size="15.1">1.8V</text></g>
<text x="208.50" y="154.90" font-size="12.4" fill="#000" style="font-family:'Liberation Sans',sans-serif" textLength="20.0" lengthAdjust="spacingAndGlyphs">x25</text>
<clipPath id="cs2"><rect x="393.50" y="20.50" width="282.10" height="166.60"/></clipPath>
<rect x="393.50" y="21.50" width="282.10" height="165.60" fill="none" stroke="#262626" stroke-width="0.65"/>
<path d="M411.13 187.10v-2.1M411.13 21.50v2.1M428.76 187.10v-2.1M428.76 21.50v2.1M446.39 187.10v-2.1M446.39 21.50v2.1M464.02 187.10v-2.1M464.02 21.50v2.1M481.66 187.10v-2.1M481.66 21.50v2.1M499.29 187.10v-2.1M499.29 21.50v2.1M516.92 187.10v-2.1M516.92 21.50v2.1M534.55 187.10v-2.1M534.55 21.50v2.1M552.18 187.10v-2.1M552.18 21.50v2.1M569.81 187.10v-2.1M569.81 21.50v2.1M587.44 187.10v-2.1M587.44 21.50v2.1M605.08 187.10v-2.1M605.08 21.50v2.1M622.71 187.10v-2.1M622.71 21.50v2.1M640.34 187.10v-2.1M640.34 21.50v2.1M657.97 187.10v-2.1M657.97 21.50v2.1M393.50 170.54h2.1M675.60 170.54h-2.1M393.50 153.98h2.1M675.60 153.98h-2.1M393.50 137.42h2.1M675.60 137.42h-2.1M393.50 120.86h2.1M675.60 120.86h-2.1M393.50 104.30h2.1M675.60 104.30h-2.1M393.50 87.74h2.1M675.60 87.74h-2.1M393.50 71.18h2.1M675.60 71.18h-2.1M393.50 54.62h2.1M675.60 54.62h-2.1M393.50 38.06h2.1M675.60 38.06h-2.1" stroke="#262626" stroke-width="0.65" fill="none"/>
<polyline clip-path="url(#cs2)" points="393.50,185.18 393.94,185.17 394.38,185.16 394.82,185.15 395.26,185.14 395.70,185.13 396.14,185.12 396.59,185.11 397.03,185.10 397.47,185.09 397.91,185.08 398.35,185.08 398.79,185.07 399.23,185.06 399.67,185.05 400.11,185.04 400.55,185.02 400.99,185.01 401.43,185.00 401.87,184.99 402.32,184.98 402.76,184.97 403.20,184.96 403.64,184.95 404.08,184.94 404.52,184.93 404.96,184.91 405.40,184.90 405.84,184.89 406.28,184.88 406.72,184.87 407.16,184.85 407.61,184.84 408.05,184.83 408.49,184.81 408.93,184.80 409.37,184.79 409.81,184.77 410.25,184.76 410.69,184.75 411.13,184.73 411.57,184.72 412.01,184.70 412.45,184.69 412.89,184.67 413.34,184.66 413.78,184.64 414.22,184.63 414.66,184.61 415.10,184.59 415.54,184.58 415.98,184.56 416.42,184.54 416.86,184.53 417.30,184.51 417.74,184.49 418.18,184.47 418.62,184.45 419.07,184.43 419.51,184.41 419.95,184.39 420.39,184.37 420.83,184.35 421.27,184.33 421.71,184.31 422.15,184.29 422.59,184.26 423.03,184.24 423.47,184.22 423.91,184.19 424.35,184.17 424.80,184.14 425.24,184.12 425.68,184.09 426.12,184.07 426.56,184.04 427.00,184.01 427.44,183.98 427.88,183.95 428.32,183.92 428.76,183.89 429.20,183.86 429.64,183.82 430.08,183.79 430.53,183.75 430.97,183.72 431.41,183.68 431.85,183.64 432.29,183.60 432.73,183.56 433.17,183.52 433.61,183.47 434.05,183.43 434.49,183.38 434.93,183.33 435.37,183.28 435.82,183.22 436.26,183.17 436.70,183.11 437.14,183.05 437.58,182.99 438.02,182.92 438.46,182.85 438.90,182.78 439.34,182.71 439.78,182.63 440.22,182.55 440.66,182.46 441.10,182.37 441.55,182.27 441.99,182.17 442.43,182.06 442.87,181.95 443.31,181.84 443.75,181.71 444.19,181.58 444.63,181.45 445.07,181.30 445.51,181.15 445.95,180.99 446.39,180.83 446.83,180.65 447.28,180.48 447.72,180.29 448.16,180.10 448.60,179.91 449.04,179.72 449.48,179.52 449.92,179.33 450.36,179.14 450.80,178.97 451.24,178.80 451.68,178.65 452.12,178.52 452.56,178.41 453.01,178.32 453.45,178.26 453.89,178.22 454.33,178.21 454.77,178.22 455.21,178.25 455.65,178.31 456.09,178.38 456.53,178.46 456.97,178.55 457.41,178.65 457.85,178.75 458.29,178.86 458.74,178.96 459.18,179.05 459.62,179.15 460.06,179.23 460.50,179.31 460.94,179.39 461.38,179.45 461.82,179.51 462.26,179.56 462.70,179.60 463.14,179.63 463.58,179.66 464.03,179.67 464.47,179.68 464.91,179.69 465.35,179.68 465.79,179.67 466.23,179.66 466.67,179.63 467.11,179.60 467.55,179.57 467.99,179.53 468.43,179.48 468.87,179.43 469.31,179.37 469.76,179.31 470.20,179.25 470.64,179.17 471.08,179.10 471.52,179.02 471.96,178.93 472.40,178.84 472.84,178.74 473.28,178.64 473.72,178.53 474.16,178.42 474.60,178.30 475.04,178.18 475.49,178.05 475.93,177.92 476.37,177.78 476.81,177.63 477.25,177.48 477.69,177.33 478.13,177.16 478.57,176.99 479.01,176.81 479.45,176.63 479.89,176.44 480.33,176.24 480.77,176.03 481.22,175.81 481.66,175.59 482.10,175.35 482.54,175.11 482.98,174.86 483.42,174.59 483.86,174.32 484.30,174.03 484.74,173.74 485.18,173.43 485.62,173.10 486.06,172.77 486.50,172.41 486.95,172.05 487.39,171.66 487.83,171.27 488.27,170.85 488.71,170.41 489.15,169.96 489.59,169.48 490.03,168.98 490.47,168.46 490.91,167.92 491.35,167.35 491.79,166.75 492.24,166.13 492.68,165.47 493.12,164.79 493.56,164.07 494.00,163.32 494.44,162.53 494.88,161.70 495.32,160.84 495.76,159.93 496.20,158.98 496.64,157.99 497.08,156.95 497.52,155.87 497.97,154.73 498.41,153.55 498.85,152.32 499.29,151.04 499.73,149.71 500.17,148.33 500.61,146.90 501.05,145.43 501.49,143.92 501.93,142.37 502.37,140.79 502.81,139.19 503.25,137.57 503.70,135.95 504.14,134.34 504.58,132.75 505.02,131.19 505.46,129.69 505.90,128.25 506.34,126.91 506.78,125.67 507.22,124.55 507.66,123.58 508.10,122.77 508.54,122.12 508.98,121.66 509.43,121.39 509.87,121.30 510.31,121.41 510.75,121.71 511.19,122.19 511.63,122.84 512.07,123.64 512.51,124.59 512.95,125.65 513.39,126.82 513.83,128.08 514.27,129.41 514.71,130.78 515.16,132.19 515.60,133.61 516.04,135.05 516.48,136.47 516.92,137.88 517.36,139.26 517.80,140.61 518.24,141.92 518.68,143.18 519.12,144.40 519.56,145.57 520.00,146.68 520.45,147.75 520.89,148.76 521.33,149.71 521.77,150.62 522.21,151.47 522.65,152.27 523.09,153.02 523.53,153.72 523.97,154.38 524.41,154.99 524.85,155.55 525.29,156.07 525.73,156.55 526.18,156.99 526.62,157.39 527.06,157.75 527.50,158.08 527.94,158.37 528.38,158.62 528.82,158.84 529.26,159.03 529.70,159.19 530.14,159.31 530.58,159.41 531.02,159.47 531.46,159.51 531.91,159.51 532.35,159.49 532.79,159.44 533.23,159.36 533.67,159.25 534.11,159.11 534.55,158.94 534.99,158.75 535.43,158.52 535.87,158.27 536.31,157.98 536.75,157.66 537.19,157.32 537.64,156.94 538.08,156.53 538.52,156.08 538.96,155.60 539.40,155.09 539.84,154.53 540.28,153.94 540.72,153.31 541.16,152.64 541.60,151.93 542.04,151.17 542.48,150.36 542.92,149.50 543.37,148.60 543.81,147.64 544.25,146.62 544.69,145.55 545.13,144.41 545.57,143.21 546.01,141.94 546.45,140.59 546.89,139.18 547.33,137.68 547.77,136.10 548.21,134.43 548.66,132.67 549.10,130.81 549.54,128.86 549.98,126.80 550.42,124.62 550.86,122.34 551.30,119.93 551.74,117.40 552.18,114.75 552.62,111.96 553.06,109.04 553.50,105.99 553.94,102.80 554.39,99.48 554.83,96.02 555.27,92.44 555.71,88.73 556.15,84.91 556.59,80.99 557.03,76.99 557.47,72.92 557.91,68.81 558.35,64.67 558.79,60.55 559.23,56.48 559.67,52.48 560.12,48.61 560.56,44.89 561.00,41.37 561.44,38.08 561.88,35.05 562.32,32.31 562.76,29.88 563.20,27.78 563.64,26.01 564.08,24.55 564.52,23.40 564.96,22.53 565.40,21.91 565.85,21.52 566.29,21.30 566.73,21.24 567.17,21.31 567.61,21.49 568.05,21.79 568.49,22.23 568.93,22.83 569.37,23.67 569.81,24.80 570.25,26.32 570.69,28.29 571.13,30.78 571.58,33.83 572.02,37.44 572.46,41.59 572.90,46.21 573.34,51.21 573.78,56.49 574.22,61.93 574.66,67.43 575.10,72.90 575.54,78.26 575.98,83.46 576.42,88.45 576.87,93.20 577.31,97.70 577.75,101.94 578.19,105.92 578.63,109.64 579.07,113.13 579.51,116.39 579.95,119.42 580.39,122.26 580.83,124.90 581.27,127.36 581.71,129.66 582.15,131.81 582.60,133.81 583.04,135.68 583.48,137.43 583.92,139.07 584.36,140.60 584.80,142.03 585.24,143.36 585.68,144.62 586.12,145.79 586.56,146.89 587.00,147.91 587.44,148.87 587.88,149.77 588.33,150.61 588.77,151.40 589.21,152.13 589.65,152.82 590.09,153.46 590.53,154.05 590.97,154.60 591.41,155.11 591.85,155.58 592.29,156.01 592.73,156.40 593.17,156.76 593.61,157.09 594.06,157.38 594.50,157.64 594.94,157.87 595.38,158.07 595.82,158.24 596.26,158.37 596.70,158.48 597.14,158.56 597.58,158.60 598.02,158.62 598.46,158.61 598.90,158.56 599.34,158.49 599.79,158.38 600.23,158.25 600.67,158.08 601.11,157.88 601.55,157.64 601.99,157.38 602.43,157.07 602.87,156.73 603.31,156.35 603.75,155.93 604.19,155.47 604.63,154.97 605.08,154.42 605.52,153.82 605.96,153.18 606.40,152.49 606.84,151.74 607.28,150.93 607.72,150.07 608.16,149.14 608.60,148.15 609.04,147.09 609.48,145.96 609.92,144.75 610.36,143.46 610.81,142.09 611.25,140.63 611.69,139.08 612.13,137.44 612.57,135.70 613.01,133.86 613.45,131.92 613.89,129.88 614.33,127.73 614.77,125.48 615.21,123.12 615.65,120.67 616.09,118.12 616.54,115.49 616.98,112.78 617.42,110.02 617.86,107.22 618.30,104.40 618.74,101.59 619.18,98.83 619.62,96.13 620.06,93.55 620.50,91.12 620.94,88.89 621.38,86.90 621.82,85.19 622.27,83.79 622.71,82.75 623.15,82.08 623.59,81.81 624.03,81.94 624.47,82.47 624.91,83.40 625.35,84.69 625.79,86.33 626.23,88.27 626.67,90.49 627.11,92.93 627.55,95.55 628.00,98.32 628.44,101.19 628.88,104.13 629.32,107.10 629.76,110.07 630.20,113.02 630.64,115.93 631.08,118.77 631.52,121.55 631.96,124.23 632.40,126.82 632.84,129.32 633.29,131.72 633.73,134.01 634.17,136.20 634.61,138.29 635.05,140.28 635.49,142.17 635.93,143.97 636.37,145.68 636.81,147.31 637.25,148.85 637.69,150.31 638.13,151.70 638.57,153.02 639.02,154.27 639.46,155.46 639.90,156.59 640.34,157.66 640.78,158.68 641.22,159.65 641.66,160.57 642.10,161.44 642.54,162.27 642.98,163.07 643.42,163.82 643.86,164.54 644.30,165.23 644.75,165.88 645.19,166.51 645.63,167.11 646.07,167.68 646.51,168.22 646.95,168.74 647.39,169.24 647.83,169.72 648.27,170.18 648.71,170.62 649.15,171.04 649.59,171.44 650.03,171.83 650.48,172.21 650.92,172.56 651.36,172.91 651.80,173.24 652.24,173.56 652.68,173.86 653.12,174.16 653.56,174.44 654.00,174.72 654.44,174.98 654.88,175.24 655.32,175.49 655.76,175.72 656.21,175.95 656.65,176.18 657.09,176.39 657.53,176.60 657.97,176.80 658.41,177.00 658.85,177.18 659.29,177.37 659.73,177.54 660.17,177.71 660.61,177.88 661.05,178.04 661.50,178.20 661.94,178.35 662.38,178.50 662.82,178.64 663.26,178.78 663.70,178.92 664.14,179.05 664.58,179.17 665.02,179.30 665.46,179.42 665.90,179.54 666.34,179.65 666.78,179.76 667.23,179.87 667.67,179.98 668.11,180.08 668.55,180.18 668.99,180.28 669.43,180.37 669.87,180.47 670.31,180.56 670.75,180.65 671.19,180.73 671.63,180.82 672.07,180.90 672.51,180.98 672.96,181.06 673.40,181.14 673.84,181.21 674.28,181.29 674.72,181.36 675.16,181.43 675.60,181.50" fill="none" stroke="#000000" stroke-width="1.5" stroke-linejoin="round"/>
<polyline clip-path="url(#cs2)" points="393.50,186.54 393.94,186.53 394.38,186.53 394.82,186.53 395.26,186.52 395.70,186.52 396.14,186.51 396.59,186.51 397.03,186.50 397.47,186.50 397.91,186.50 398.35,186.49 398.79,186.49 399.23,186.48 399.67,186.48 400.11,186.47 400.55,186.47 400.99,186.47 401.43,186.46 401.87,186.46 402.32,186.45 402.76,186.45 403.20,186.44 403.64,186.44 404.08,186.43 404.52,186.43 404.96,186.42 405.40,186.41 405.84,186.41 406.28,186.40 406.72,186.40 407.16,186.39 407.61,186.39 408.05,186.38 408.49,186.37 408.93,186.37 409.37,186.36 409.81,186.36 410.25,186.35 410.69,186.34 411.13,186.34 411.57,186.33 412.01,186.32 412.45,186.32 412.89,186.31 413.34,186.30 413.78,186.30 414.22,186.29 414.66,186.28 415.10,186.27 415.54,186.27 415.98,186.26 416.42,186.25 416.86,186.24 417.30,186.23 417.74,186.22 418.18,186.22 418.62,186.21 419.07,186.20 419.51,186.19 419.95,186.18 420.39,186.17 420.83,186.16 421.27,186.15 421.71,186.14 422.15,186.13 422.59,186.12 423.03,186.11 423.47,186.10 423.91,186.08 424.35,186.07 424.80,186.06 425.24,186.05 425.68,186.03 426.12,186.02 426.56,186.01 427.00,185.99 427.44,185.98 427.88,185.96 428.32,185.95 428.76,185.93 429.20,185.92 429.64,185.90 430.08,185.88 430.53,185.87 430.97,185.85 431.41,185.83 431.85,185.81 432.29,185.79 432.73,185.77 433.17,185.75 433.61,185.73 434.05,185.70 434.49,185.68 434.93,185.65 435.37,185.63 435.82,185.60 436.26,185.57 436.70,185.54 437.14,185.51 437.58,185.48 438.02,185.44 438.46,185.41 438.90,185.37 439.34,185.33 439.78,185.29 440.22,185.25 440.66,185.21 441.10,185.16 441.55,185.12 441.99,185.07 442.43,185.02 442.87,184.96 443.31,184.91 443.75,184.85 444.19,184.79 444.63,184.72 445.07,184.66 445.51,184.59 445.95,184.52 446.39,184.45 446.83,184.38 447.28,184.31 447.72,184.24 448.16,184.16 448.60,184.09 449.04,184.01 449.48,183.94 449.92,183.87 450.36,183.80 450.80,183.74 451.24,183.68 451.68,183.63 452.12,183.58 452.56,183.54 453.01,183.51 453.45,183.48 453.89,183.47 454.33,183.46 454.77,183.45 455.21,183.46 455.65,183.47 456.09,183.48 456.53,183.50 456.97,183.52 457.41,183.55 457.85,183.58 458.29,183.61 458.74,183.64 459.18,183.67 459.62,183.70 460.06,183.73 460.50,183.76 460.94,183.79 461.38,183.81 461.82,183.84 462.26,183.86 462.70,183.87 463.14,183.89 463.58,183.90 464.03,183.91 464.47,183.91 464.91,183.92 465.35,183.92 465.79,183.91 466.23,183.91 466.67,183.90 467.11,183.89 467.55,183.88 467.99,183.86 468.43,183.84 468.87,183.82 469.31,183.80 469.76,183.77 470.20,183.74 470.64,183.71 471.08,183.68 471.52,183.64 471.96,183.60 472.40,183.56 472.84,183.52 473.28,183.47 473.72,183.42 474.16,183.37 474.60,183.31 475.04,183.26 475.49,183.20 475.93,183.13 476.37,183.07 476.81,183.00 477.25,182.93 477.69,182.85 478.13,182.77 478.57,182.69 479.01,182.61 479.45,182.52 479.89,182.42 480.33,182.33 480.77,182.23 481.22,182.12 481.66,182.01 482.10,181.90 482.54,181.78 482.98,181.65 483.42,181.52 483.86,181.39 484.30,181.25 484.74,181.10 485.18,180.95 485.62,180.79 486.06,180.62 486.50,180.44 486.95,180.26 487.39,180.07 487.83,179.87 488.27,179.67 488.71,179.45 489.15,179.22 489.59,178.99 490.03,178.74 490.47,178.48 490.91,178.22 491.35,177.94 491.79,177.65 492.24,177.34 492.68,177.02 493.12,176.69 493.56,176.35 494.00,175.99 494.44,175.62 494.88,175.23 495.32,174.82 495.76,174.40 496.20,173.97 496.64,173.51 497.08,173.05 497.52,172.56 497.97,172.06 498.41,171.54 498.85,171.01 499.29,170.46 499.73,169.89 500.17,169.32 500.61,168.73 501.05,168.13 501.49,167.51 501.93,166.90 502.37,166.28 502.81,165.65 503.25,165.03 503.70,164.41 504.14,163.81 504.58,163.21 505.02,162.64 505.46,162.09 505.90,161.56 506.34,161.07 506.78,160.62 507.22,160.22 507.66,159.86 508.10,159.56 508.54,159.31 508.98,159.12 509.43,159.00 509.87,158.94 510.31,158.94 510.75,159.01 511.19,159.14 511.63,159.33 512.07,159.58 512.51,159.88 512.95,160.23 513.39,160.62 513.83,161.05 514.27,161.52 514.71,162.01 515.16,162.52 515.60,163.06 516.04,163.60 516.48,164.16 516.92,164.72 517.36,165.28 517.80,165.84 518.24,166.40 518.68,166.94 519.12,167.48 519.56,168.00 520.00,168.51 520.45,169.01 520.89,169.49 521.33,169.95 521.77,170.40 522.21,170.82 522.65,171.24 523.09,171.63 523.53,172.00 523.97,172.36 524.41,172.70 524.85,173.02 525.29,173.33 525.73,173.61 526.18,173.88 526.62,174.14 527.06,174.38 527.50,174.60 527.94,174.81 528.38,175.00 528.82,175.17 529.26,175.34 529.70,175.48 530.14,175.62 530.58,175.74 531.02,175.85 531.46,175.94 531.91,176.02 532.35,176.09 532.79,176.14 533.23,176.19 533.67,176.22 534.11,176.24 534.55,176.24 534.99,176.24 535.43,176.22 535.87,176.19 536.31,176.14 536.75,176.09 537.19,176.02 537.64,175.93 538.08,175.84 538.52,175.73 538.96,175.61 539.40,175.47 539.84,175.32 540.28,175.15 540.72,174.97 541.16,174.77 541.60,174.55 542.04,174.32 542.48,174.06 542.92,173.79 543.37,173.49 543.81,173.17 544.25,172.83 544.69,172.47 545.13,172.08 545.57,171.66 546.01,171.21 546.45,170.73 546.89,170.22 547.33,169.68 547.77,169.10 548.21,168.47 548.66,167.81 549.10,167.11 549.54,166.36 549.98,165.56 550.42,164.71 550.86,163.80 551.30,162.84 551.74,161.82 552.18,160.74 552.62,159.59 553.06,158.38 553.50,157.09 553.94,155.74 554.39,154.31 554.83,152.80 555.27,151.23 555.71,149.57 556.15,147.85 556.59,146.05 557.03,144.19 557.47,142.27 557.91,140.31 558.35,138.30 558.79,136.26 559.23,134.22 559.67,132.18 560.12,130.17 560.56,128.22 561.00,126.35 561.44,124.58 561.88,122.93 562.32,121.44 562.76,120.13 563.20,119.00 563.64,118.08 564.08,117.36 564.52,116.86 564.96,116.57 565.40,116.47 565.85,116.56 566.29,116.82 566.73,117.24 567.17,117.81 567.61,118.49 568.05,119.30 568.49,120.20 568.93,121.21 569.37,122.31 569.81,123.50 570.25,124.79 570.69,126.15 571.13,127.61 571.58,129.14 572.02,130.76 572.46,132.43 572.90,134.17 573.34,135.95 573.78,137.77 574.22,139.60 574.66,141.44 575.10,143.28 575.54,145.09 575.98,146.87 576.42,148.61 576.87,150.31 577.31,151.94 577.75,153.52 578.19,155.04 578.63,156.50 579.07,157.88 579.51,159.21 579.95,160.46 580.39,161.66 580.83,162.79 581.27,163.86 581.71,164.87 582.15,165.83 582.60,166.74 583.04,167.59 583.48,168.40 583.92,169.16 584.36,169.88 584.80,170.55 585.24,171.19 585.68,171.80 586.12,172.37 586.56,172.91 587.00,173.41 587.44,173.90 587.88,174.35 588.33,174.78 588.77,175.18 589.21,175.57 589.65,175.93 590.09,176.28 590.53,176.60 590.97,176.91 591.41,177.21 591.85,177.48 592.29,177.75 592.73,178.00 593.17,178.24 593.61,178.47 594.06,178.68 594.50,178.89 594.94,179.08 595.38,179.27 595.82,179.44 596.26,179.61 596.70,179.77 597.14,179.92 597.58,180.06 598.02,180.20 598.46,180.33 598.90,180.45 599.34,180.57 599.79,180.68 600.23,180.78 600.67,180.88 601.11,180.97 601.55,181.05 601.99,181.13 602.43,181.21 602.87,181.28 603.31,181.34 603.75,181.40 604.19,181.46 604.63,181.50 605.08,181.55 605.52,181.59 605.96,181.62 606.40,181.65 606.84,181.67 607.28,181.69 607.72,181.70 608.16,181.71 608.60,181.71 609.04,181.71 609.48,181.70 609.92,181.69 610.36,181.67 610.81,181.64 611.25,181.62 611.69,181.58 612.13,181.54 612.57,181.50 613.01,181.45 613.45,181.39 613.89,181.33 614.33,181.27 614.77,181.20 615.21,181.13 615.65,181.05 616.09,180.98 616.54,180.90 616.98,180.82 617.42,180.74 617.86,180.66 618.30,180.58 618.74,180.51 619.18,180.44 619.62,180.38 620.06,180.32 620.50,180.27 620.94,180.24 621.38,180.21 621.82,180.20 622.27,180.20 622.71,180.21 623.15,180.23 623.59,180.27 624.03,180.33 624.47,180.40 624.91,180.48 625.35,180.57 625.79,180.67 626.23,180.79 626.67,180.91 627.11,181.04 627.55,181.17 628.00,181.31 628.44,181.45 628.88,181.59 629.32,181.74 629.76,181.88 630.20,182.03 630.64,182.17 631.08,182.31 631.52,182.44 631.96,182.58 632.40,182.71 632.84,182.84 633.29,182.96 633.73,183.08 634.17,183.20 634.61,183.31 635.05,183.42 635.49,183.52 635.93,183.62 636.37,183.72 636.81,183.81 637.25,183.90 637.69,183.99 638.13,184.07 638.57,184.15 639.02,184.22 639.46,184.29 639.90,184.36 640.34,184.43 640.78,184.49 641.22,184.56 641.66,184.62 642.10,184.67 642.54,184.73 642.98,184.78 643.42,184.83 643.86,184.88 644.30,184.92 644.75,184.97 645.19,185.01 645.63,185.05 646.07,185.09 646.51,185.13 646.95,185.17 647.39,185.20 647.83,185.24 648.27,185.27 648.71,185.30 649.15,185.33 649.59,185.36 650.03,185.39 650.48,185.42 650.92,185.45 651.36,185.47 651.80,185.50 652.24,185.52 652.68,185.55 653.12,185.57 653.56,185.59 654.00,185.61 654.44,185.63 654.88,185.66 655.32,185.68 655.76,185.69 656.21,185.71 656.65,185.73 657.09,185.75 657.53,185.77 657.97,185.79 658.41,185.80 658.85,185.82 659.29,185.83 659.73,185.85 660.17,185.87 660.61,185.88 661.05,185.90 661.50,185.91 661.94,185.92 662.38,185.94 662.82,185.95 663.26,185.96 663.70,185.98 664.14,185.99 664.58,186.00 665.02,186.01 665.46,186.03 665.90,186.04 666.34,186.05 666.78,186.06 667.23,186.07 667.67,186.08 668.11,186.09 668.55,186.10 668.99,186.11 669.43,186.12 669.87,186.13 670.31,186.14 670.75,186.15 671.19,186.16 671.63,186.17 672.07,186.18 672.51,186.19 672.96,186.20 673.40,186.20 673.84,186.21 674.28,186.22 674.72,186.23 675.16,186.24 675.60,186.24" fill="none" stroke="#0000ff" stroke-width="1.5" stroke-linejoin="round"/>
<polyline clip-path="url(#cs2)" points="393.50,186.90 393.94,186.90 394.38,186.90 394.82,186.90 395.26,186.90 395.70,186.90 396.14,186.90 396.59,186.90 397.03,186.90 397.47,186.90 397.91,186.90 398.35,186.90 398.79,186.90 399.23,186.90 399.67,186.90 400.11,186.90 400.55,186.90 400.99,186.90 401.43,186.90 401.87,186.90 402.32,186.90 402.76,186.90 403.20,186.89 403.64,186.89 404.08,186.89 404.52,186.89 404.96,186.89 405.40,186.89 405.84,186.89 406.28,186.89 406.72,186.89 407.16,186.89 407.61,186.89 408.05,186.89 408.49,186.89 408.93,186.89 409.37,186.89 409.81,186.89 410.25,186.89 410.69,186.89 411.13,186.89 411.57,186.89 412.01,186.88 412.45,186.88 412.89,186.88 413.34,186.88 413.78,186.88 414.22,186.88 414.66,186.88 415.10,186.88 415.54,186.88 415.98,186.88 416.42,186.88 416.86,186.88 417.30,186.88 417.74,186.88 418.18,186.88 418.62,186.88 419.07,186.87 419.51,186.87 419.95,186.87 420.39,186.87 420.83,186.87 421.27,186.87 421.71,186.87 422.15,186.87 422.59,186.87 423.03,186.87 423.47,186.87 423.91,186.87 424.35,186.87 424.80,186.86 425.24,186.86 425.68,186.86 426.12,186.86 426.56,186.86 427.00,186.86 427.44,186.86 427.88,186.86 428.32,186.86 428.76,186.86 429.20,186.86 429.64,186.86 430.08,186.85 430.53,186.85 430.97,186.85 431.41,186.85 431.85,186.85 432.29,186.85 432.73,186.85 433.17,186.85 433.61,186.85 434.05,186.84 434.49,186.84 434.93,186.84 435.37,186.84 435.82,186.84 436.26,186.84 436.70,186.84 437.14,186.84 437.58,186.84 438.02,186.83 438.46,186.83 438.90,186.83 439.34,186.83 439.78,186.83 440.22,186.83 440.66,186.83 441.10,186.83 441.55,186.82 441.99,186.82 442.43,186.82 442.87,186.82 443.31,186.82 443.75,186.82 444.19,186.81 444.63,186.81 445.07,186.81 445.51,186.81 445.95,186.81 446.39,186.81 446.83,186.81 447.28,186.80 447.72,186.80 448.16,186.80 448.60,186.80 449.04,186.80 449.48,186.79 449.92,186.79 450.36,186.79 450.80,186.79 451.24,186.79 451.68,186.78 452.12,186.78 452.56,186.78 453.01,186.78 453.45,186.78 453.89,186.77 454.33,186.77 454.77,186.77 455.21,186.77 455.65,186.76 456.09,186.76 456.53,186.76 456.97,186.76 457.41,186.75 457.85,186.75 458.29,186.75 458.74,186.74 459.18,186.74 459.62,186.74 460.06,186.74 460.50,186.73 460.94,186.73 461.38,186.73 461.82,186.72 462.26,186.72 462.70,186.72 463.14,186.71 463.58,186.71 464.03,186.70 464.47,186.70 464.91,186.70 465.35,186.69 465.79,186.69 466.23,186.68 466.67,186.68 467.11,186.67 467.55,186.67 467.99,186.67 468.43,186.66 468.87,186.66 469.31,186.65 469.76,186.65 470.20,186.64 470.64,186.63 471.08,186.63 471.52,186.62 471.96,186.62 472.40,186.61 472.84,186.60 473.28,186.60 473.72,186.59 474.16,186.58 474.60,186.58 475.04,186.57 475.49,186.56 475.93,186.55 476.37,186.54 476.81,186.54 477.25,186.53 477.69,186.52 478.13,186.51 478.57,186.50 479.01,186.49 479.45,186.48 479.89,186.46 480.33,186.45 480.77,186.44 481.22,186.43 481.66,186.42 482.10,186.40 482.54,186.39 482.98,186.37 483.42,186.36 483.86,186.34 484.30,186.32 484.74,186.30 485.18,186.28 485.62,186.26 486.06,186.24 486.50,186.22 486.95,186.20 487.39,186.17 487.83,186.15 488.27,186.12 488.71,186.09 489.15,186.06 489.59,186.03 490.03,185.99 490.47,185.95 490.91,185.92 491.35,185.88 491.79,185.83 492.24,185.79 492.68,185.74 493.12,185.69 493.56,185.64 494.00,185.58 494.44,185.52 494.88,185.46 495.32,185.39 495.76,185.32 496.20,185.25 496.64,185.18 497.08,185.10 497.52,185.02 497.97,184.93 498.41,184.84 498.85,184.75 499.29,184.65 499.73,184.55 500.17,184.45 500.61,184.34 501.05,184.23 501.49,184.12 501.93,184.01 502.37,183.89 502.81,183.77 503.25,183.65 503.70,183.53 504.14,183.42 504.58,183.30 505.02,183.19 505.46,183.08 505.90,182.97 506.34,182.87 506.78,182.78 507.22,182.70 507.66,182.63 508.10,182.57 508.54,182.52 508.98,182.49 509.43,182.46 509.87,182.46 510.31,182.46 510.75,182.48 511.19,182.52 511.63,182.56 512.07,182.62 512.51,182.69 512.95,182.77 513.39,182.85 513.83,182.95 514.27,183.04 514.71,183.15 515.16,183.25 515.60,183.36 516.04,183.47 516.48,183.58 516.92,183.69 517.36,183.80 517.80,183.90 518.24,184.00 518.68,184.11 519.12,184.20 519.56,184.30 520.00,184.39 520.45,184.48 520.89,184.56 521.33,184.64 521.77,184.72 522.21,184.79 522.65,184.86 523.09,184.92 523.53,184.98 523.97,185.04 524.41,185.09 524.85,185.14 525.29,185.19 525.73,185.23 526.18,185.28 526.62,185.31 527.06,185.35 527.50,185.38 527.94,185.41 528.38,185.43 528.82,185.46 529.26,185.48 529.70,185.49 530.14,185.51 530.58,185.52 531.02,185.53 531.46,185.54 531.91,185.55 532.35,185.56 532.79,185.56 533.23,185.56 533.67,185.56 534.11,185.55 534.55,185.55 534.99,185.54 535.43,185.53 535.87,185.52 536.31,185.51 536.75,185.49 537.19,185.48 537.64,185.46 538.08,185.44 538.52,185.41 538.96,185.39 539.40,185.36 539.84,185.33 540.28,185.29 540.72,185.26 541.16,185.22 541.60,185.18 542.04,185.13 542.48,185.08 542.92,185.03 543.37,184.97 543.81,184.91 544.25,184.84 544.69,184.77 545.13,184.70 545.57,184.62 546.01,184.53 546.45,184.44 546.89,184.34 547.33,184.24 547.77,184.13 548.21,184.01 548.66,183.88 549.10,183.75 549.54,183.61 549.98,183.46 550.42,183.30 550.86,183.13 551.30,182.95 551.74,182.76 552.18,182.57 552.62,182.36 553.06,182.14 553.50,181.91 553.94,181.68 554.39,181.43 554.83,181.17 555.27,180.90 555.71,180.63 556.15,180.34 556.59,180.05 557.03,179.75 557.47,179.45 557.91,179.14 558.35,178.83 558.79,178.53 559.23,178.22 559.67,177.93 560.12,177.64 560.56,177.37 561.00,177.11 561.44,176.88 561.88,176.66 562.32,176.47 562.76,176.32 563.20,176.19 563.64,176.09 564.08,176.02 564.52,175.99 564.96,175.99 565.40,176.02 565.85,176.08 566.29,176.16 566.73,176.27 567.17,176.40 567.61,176.54 568.05,176.71 568.49,176.89 568.93,177.08 569.37,177.28 569.81,177.50 570.25,177.72 570.69,177.95 571.13,178.19 571.58,178.44 572.02,178.69 572.46,178.95 572.90,179.21 573.34,179.48 573.78,179.74 574.22,180.01 574.66,180.28 575.10,180.54 575.54,180.80 575.98,181.05 576.42,181.30 576.87,181.54 577.31,181.78 577.75,182.01 578.19,182.23 578.63,182.44 579.07,182.64 579.51,182.84 579.95,183.02 580.39,183.20 580.83,183.37 581.27,183.53 581.71,183.68 582.15,183.82 582.60,183.96 583.04,184.08 583.48,184.21 583.92,184.32 584.36,184.43 584.80,184.53 585.24,184.63 585.68,184.72 586.12,184.80 586.56,184.88 587.00,184.96 587.44,185.03 587.88,185.09 588.33,185.15 588.77,185.21 589.21,185.27 589.65,185.32 590.09,185.37 590.53,185.41 590.97,185.46 591.41,185.50 591.85,185.53 592.29,185.57 592.73,185.60 593.17,185.63 593.61,185.66 594.06,185.69 594.50,185.72 594.94,185.74 595.38,185.76 595.82,185.78 596.26,185.80 596.70,185.82 597.14,185.84 597.58,185.85 598.02,185.87 598.46,185.88 598.90,185.89 599.34,185.90 599.79,185.91 600.23,185.92 600.67,185.92 601.11,185.93 601.55,185.93 601.99,185.94 602.43,185.94 602.87,185.94 603.31,185.94 603.75,185.93 604.19,185.93 604.63,185.92 605.08,185.91 605.52,185.91 605.96,185.89 606.40,185.88 606.84,185.87 607.28,185.85 607.72,185.83 608.16,185.81 608.60,185.79 609.04,185.76 609.48,185.73 609.92,185.70 610.36,185.67 610.81,185.63 611.25,185.59 611.69,185.55 612.13,185.51 612.57,185.46 613.01,185.41 613.45,185.36 613.89,185.30 614.33,185.24 614.77,185.18 615.21,185.11 615.65,185.04 616.09,184.97 616.54,184.90 616.98,184.83 617.42,184.75 617.86,184.67 618.30,184.60 618.74,184.52 619.18,184.44 619.62,184.37 620.06,184.30 620.50,184.23 620.94,184.17 621.38,184.12 621.82,184.07 622.27,184.03 622.71,184.00 623.15,183.99 623.59,183.98 624.03,183.98 624.47,184.00 624.91,184.03 625.35,184.06 625.79,184.11 626.23,184.16 626.67,184.23 627.11,184.29 627.55,184.37 628.00,184.45 628.44,184.53 628.88,184.61 629.32,184.70 629.76,184.79 630.20,184.87 630.64,184.96 631.08,185.04 631.52,185.12 631.96,185.20 632.40,185.28 632.84,185.35 633.29,185.42 633.73,185.49 634.17,185.56 634.61,185.62 635.05,185.68 635.49,185.74 635.93,185.79 636.37,185.85 636.81,185.89 637.25,185.94 637.69,185.98 638.13,186.03 638.57,186.07 639.02,186.10 639.46,186.14 639.90,186.17 640.34,186.20 640.78,186.23 641.22,186.26 641.66,186.29 642.10,186.31 642.54,186.33 642.98,186.35 643.42,186.37 643.86,186.39 644.30,186.41 644.75,186.43 645.19,186.45 645.63,186.46 646.07,186.48 646.51,186.49 646.95,186.50 647.39,186.51 647.83,186.53 648.27,186.54 648.71,186.55 649.15,186.56 649.59,186.57 650.03,186.58 650.48,186.59 650.92,186.59 651.36,186.60 651.80,186.61 652.24,186.62 652.68,186.63 653.12,186.63 653.56,186.64 654.00,186.65 654.44,186.65 654.88,186.66 655.32,186.66 655.76,186.67 656.21,186.67 656.65,186.68 657.09,186.68 657.53,186.69 657.97,186.69 658.41,186.70 658.85,186.70 659.29,186.71 659.73,186.71 660.17,186.72 660.61,186.72 661.05,186.72 661.50,186.73 661.94,186.73 662.38,186.73 662.82,186.74 663.26,186.74 663.70,186.75 664.14,186.75 664.58,186.75 665.02,186.75 665.46,186.76 665.90,186.76 666.34,186.76 666.78,186.77 667.23,186.77 667.67,186.77 668.11,186.77 668.55,186.78 668.99,186.78 669.43,186.78 669.87,186.78 670.31,186.79 670.75,186.79 671.19,186.79 671.63,186.79 672.07,186.79 672.51,186.80 672.96,186.80 673.40,186.80 673.84,186.80 674.28,186.80 674.72,186.81 675.16,186.81 675.60,186.81" fill="none" stroke="#ff0000" stroke-width="1.5" stroke-linejoin="round"/>
<text transform="translate(393.50,207.15) scale(0.97,1.07)" font-size="15.6" text-anchor="middle" fill="#262626">1.4</text>
<text transform="translate(428.76,207.15) scale(0.97,1.07)" font-size="15.6" text-anchor="middle" fill="#262626">1.5</text>
<text transform="translate(464.02,207.15) scale(0.97,1.07)" font-size="15.6" text-anchor="middle" fill="#262626">1.6</text>
<text transform="translate(499.29,207.15) scale(0.97,1.07)" font-size="15.6" text-anchor="middle" fill="#262626">1.7</text>
<text transform="translate(534.55,207.15) scale(0.97,1.07)" font-size="15.6" text-anchor="middle" fill="#262626">1.8</text>
<text transform="translate(569.81,207.15) scale(0.97,1.07)" font-size="15.6" text-anchor="middle" fill="#262626">1.9</text>
<text transform="translate(605.08,207.15) scale(0.97,1.07)" font-size="15.6" text-anchor="middle" fill="#262626">2</text>
<text transform="translate(640.34,207.15) scale(0.97,1.07)" font-size="15.6" text-anchor="middle" fill="#262626">2.1</text>
<text transform="translate(675.60,207.15) scale(0.97,1.07)" font-size="15.6" text-anchor="middle" fill="#262626">2.2</text>
<text transform="translate(387.60,159.48) scale(0.97,1.07)" font-size="15.6" text-anchor="end" fill="#262626">0.2</text>
<text transform="translate(387.60,126.36) scale(0.97,1.07)" font-size="15.6" text-anchor="end" fill="#262626">0.4</text>
<text transform="translate(387.60,93.24) scale(0.97,1.07)" font-size="15.6" text-anchor="end" fill="#262626">0.6</text>
<text transform="translate(387.60,60.12) scale(0.97,1.07)" font-size="15.6" text-anchor="end" fill="#262626">0.8</text>
<text transform="translate(387.60,27.00) scale(0.97,1.07)" font-size="15.6" text-anchor="end" fill="#262626">1</text>
<g transform="translate(465.40,228.60) scale(1.0048,1.0)"><text fill="#262626" font-size="17.1">Photon Energy [eV]</text></g>
<g transform="translate(361.60,186.60) rotate(-90) scale(1.0009,1)"><text fill="#262626" font-size="17.1">EL Intensity [arb. units]</text></g>
<g transform="translate(401.27,12.30) scale(1.0579,1.07)"><text fill="#000" font-size="16.6"><tspan font-style="italic">ħg</tspan><tspan font-size="10.96" dy="2.6">00</tspan></text></g>
<path d="M431.90 6.35H443.10M431.90 9.45H443.10" stroke="#000" stroke-width="0.8"/>
<g transform="translate(444.16,12.30) scale(1.0902,1.07)"><text fill="#000" font-size="16.6">10meV,</text></g>
<g transform="translate(505.43,12.30) scale(1.1313,1.07)"><text fill="#000" font-size="16.6" font-style="italic">ħκ</text></g>
<path d="M525.50 6.35H536.80M525.50 9.45H536.80" stroke="#000" stroke-width="0.8"/>
<g transform="translate(537.89,12.30) scale(1.0756,1.07)"><text fill="#000" font-size="16.6">10meV,</text></g>
<g transform="translate(598.95,12.30) scale(1.2947,1.07)"><text fill="#000" font-size="16.6">Δ</text></g>
<path d="M613.60 6.35H624.80M613.60 9.45H624.80" stroke="#000" stroke-width="0.8"/>
<g transform="translate(625.78,12.30) scale(1.0375,1.07)"><text fill="#000" font-size="16.6">0meV</text></g>
<rect x="405.50" y="33.50" width="110.7" height="60.9" fill="#fff" stroke="#262626" stroke-width="0.65"/>
<path d="M413.10 45.30H451.20" stroke="#000000" stroke-width="1.3"/>
<g transform="translate(454.81,48.80) scale(1.0500,1.05)"><text fill="#000" font-size="15.1" font-style="italic">V</text></g>
<g transform="translate(463.76,51.40) scale(0.9474,1.0)"><text fill="#000" font-size="10.57" font-style="italic">b</text></g>
<path d="M470.10 43.40H480.10M470.10 46.40H480.10" stroke="#000" stroke-width="0.8"/>
<g transform="translate(480.79,48.80) scale(1.0256,1.05)"><text fill="#000" font-size="15.1">2.5V</text></g>
<path d="M413.10 64.00H451.20" stroke="#0000ff" stroke-width="1.3"/>
<g transform="translate(454.81,67.65) scale(1.0500,1.05)"><text fill="#000" font-size="15.1" font-style="italic">V</text></g>
<g transform="translate(463.76,70.25) scale(0.9474,1.0)"><text fill="#000" font-size="10.57" font-style="italic">b</text></g>
<path d="M470.10 62.25H480.10M470.10 65.25H480.10" stroke="#000" stroke-width="0.8"/>
<g transform="translate(479.98,67.65) scale(1.0526,1.05)"><text fill="#000" font-size="15.1">1.9V</text></g>
<path d="M413.10 82.70H451.20" stroke="#ff0000" stroke-width="1.3"/>
<g transform="translate(454.81,86.50) scale(1.0500,1.05)"><text fill="#000" font-size="15.1" font-style="italic">V</text></g>
<g transform="translate(463.76,89.10) scale(0.9474,1.0)"><text fill="#000" font-size="10.57" font-style="italic">b</text></g>
<path d="M470.10 81.10H480.10M470.10 84.10H480.10" stroke="#000" stroke-width="0.8"/>
<g transform="translate(479.98,86.50) scale(1.0526,1.05)"><text fill="#000" font-size="15.1">1.8V</text></g>
<clipPath id="cs3"><rect x="43.80" y="274.20" width="282.50" height="166.70"/></clipPath>
<rect x="43.80" y="275.20" width="282.50" height="165.70" fill="none" stroke="#262626" stroke-width="0.65"/>
<path d="M61.46 440.90v-2.1M61.46 275.20v2.1M79.11 440.90v-2.1M79.11 275.20v2.1M96.77 440.90v-2.1M96.77 275.20v2.1M114.42 440.90v-2.1M114.42 275.20v2.1M132.08 440.90v-2.1M132.08 275.20v2.1M149.74 440.90v-2.1M149.74 275.20v2.1M167.39 440.90v-2.1M167.39 275.20v2.1M185.05 440.90v-2.1M185.05 275.20v2.1M202.71 440.90v-2.1M202.71 275.20v2.1M220.36 440.90v-2.1M220.36 275.20v2.1M238.02 440.90v-2.1M238.02 275.20v2.1M255.68 440.90v-2.1M255.68 275.20v2.1M273.33 440.90v-2.1M273.33 275.20v2.1M290.99 440.90v-2.1M290.99 275.20v2.1M308.64 440.90v-2.1M308.64 275.20v2.1M43.80 424.33h2.1M326.30 424.33h-2.1M43.80 407.76h2.1M326.30 407.76h-2.1M43.80 391.19h2.1M326.30 391.19h-2.1M43.80 374.62h2.1M326.30 374.62h-2.1M43.80 358.05h2.1M326.30 358.05h-2.1M43.80 341.48h2.1M326.30 341.48h-2.1M43.80 324.91h2.1M326.30 324.91h-2.1M43.80 308.34h2.1M326.30 308.34h-2.1M43.80 291.77h2.1M326.30 291.77h-2.1" stroke="#262626" stroke-width="0.65" fill="none"/>
<polyline clip-path="url(#cs3)" points="43.80,438.68 44.24,438.67 44.68,438.66 45.12,438.65 45.57,438.64 46.01,438.62 46.45,438.61 46.89,438.60 47.33,438.59 47.77,438.58 48.21,438.56 48.66,438.55 49.10,438.54 49.54,438.53 49.98,438.51 50.42,438.50 50.86,438.49 51.30,438.47 51.75,438.46 52.19,438.45 52.63,438.43 53.07,438.42 53.51,438.40 53.95,438.39 54.39,438.37 54.84,438.36 55.28,438.34 55.72,438.33 56.16,438.31 56.60,438.30 57.04,438.28 57.48,438.26 57.93,438.25 58.37,438.23 58.81,438.21 59.25,438.20 59.69,438.18 60.13,438.16 60.57,438.14 61.01,438.12 61.46,438.10 61.90,438.08 62.34,438.06 62.78,438.04 63.22,438.02 63.66,438.00 64.10,437.98 64.55,437.96 64.99,437.94 65.43,437.92 65.87,437.89 66.31,437.87 66.75,437.85 67.19,437.82 67.64,437.80 68.08,437.77 68.52,437.75 68.96,437.72 69.40,437.69 69.84,437.67 70.28,437.64 70.73,437.61 71.17,437.58 71.61,437.55 72.05,437.52 72.49,437.49 72.93,437.46 73.37,437.42 73.82,437.39 74.26,437.35 74.70,437.32 75.14,437.28 75.58,437.24 76.02,437.20 76.46,437.16 76.91,437.12 77.35,437.08 77.79,437.03 78.23,436.99 78.67,436.94 79.11,436.89 79.55,436.84 80.00,436.78 80.44,436.73 80.88,436.67 81.32,436.61 81.76,436.55 82.20,436.49 82.64,436.42 83.09,436.35 83.53,436.28 83.97,436.21 84.41,436.13 84.85,436.04 85.29,435.96 85.73,435.87 86.18,435.77 86.62,435.68 87.06,435.57 87.50,435.47 87.94,435.35 88.38,435.23 88.82,435.11 89.26,434.98 89.71,434.85 90.15,434.70 90.59,434.56 91.03,434.41 91.47,434.25 91.91,434.08 92.35,433.92 92.80,433.75 93.24,433.57 93.68,433.40 94.12,433.22 94.56,433.05 95.00,432.88 95.44,432.72 95.89,432.56 96.33,432.41 96.77,432.28 97.21,432.16 97.65,432.05 98.09,431.95 98.53,431.87 98.98,431.80 99.42,431.74 99.86,431.70 100.30,431.66 100.74,431.63 101.18,431.60 101.62,431.58 102.07,431.55 102.51,431.53 102.95,431.50 103.39,431.46 103.83,431.42 104.27,431.37 104.71,431.31 105.16,431.25 105.60,431.17 106.04,431.09 106.48,431.01 106.92,430.91 107.36,430.82 107.80,430.72 108.25,430.62 108.69,430.52 109.13,430.42 109.57,430.33 110.01,430.24 110.45,430.17 110.89,430.10 111.34,430.05 111.78,430.01 112.22,429.98 112.66,429.97 113.10,429.97 113.54,429.98 113.98,430.00 114.43,430.03 114.87,430.07 115.31,430.11 115.75,430.16 116.19,430.21 116.63,430.26 117.07,430.31 117.51,430.36 117.96,430.40 118.40,430.44 118.84,430.47 119.28,430.49 119.72,430.51 120.16,430.52 120.60,430.52 121.05,430.51 121.49,430.49 121.93,430.47 122.37,430.43 122.81,430.39 123.25,430.34 123.69,430.28 124.14,430.21 124.58,430.13 125.02,430.04 125.46,429.95 125.90,429.84 126.34,429.72 126.78,429.60 127.23,429.47 127.67,429.32 128.11,429.17 128.55,429.00 128.99,428.83 129.43,428.64 129.87,428.45 130.32,428.24 130.76,428.02 131.20,427.79 131.64,427.54 132.08,427.29 132.52,427.02 132.96,426.73 133.41,426.43 133.85,426.11 134.29,425.77 134.73,425.42 135.17,425.05 135.61,424.65 136.05,424.24 136.50,423.80 136.94,423.34 137.38,422.86 137.82,422.34 138.26,421.80 138.70,421.23 139.14,420.62 139.59,419.98 140.03,419.30 140.47,418.58 140.91,417.83 141.35,417.02 141.79,416.17 142.23,415.27 142.68,414.31 143.12,413.30 143.56,412.24 144.00,411.11 144.44,409.91 144.88,408.65 145.32,407.33 145.76,405.93 146.21,404.47 146.65,402.94 147.09,401.34 147.53,399.68 147.97,397.97 148.41,396.22 148.85,394.43 149.30,392.62 149.74,390.81 150.18,389.02 150.62,387.27 151.06,385.58 151.50,383.99 151.94,382.51 152.39,381.17 152.83,380.00 153.27,379.00 153.71,378.18 154.15,377.56 154.59,377.12 155.03,376.85 155.48,376.73 155.92,376.74 156.36,376.85 156.80,377.04 157.24,377.27 157.68,377.51 158.12,377.73 158.57,377.92 159.01,378.05 159.45,378.10 159.89,378.07 160.33,377.94 160.77,377.72 161.21,377.41 161.66,377.01 162.10,376.54 162.54,376.02 162.98,375.47 163.42,374.92 163.86,374.39 164.30,373.93 164.75,373.57 165.19,373.33 165.63,373.25 166.07,373.35 166.51,373.64 166.95,374.14 167.39,374.85 167.84,375.74 168.28,376.81 168.72,378.03 169.16,379.38 169.60,380.82 170.04,382.32 170.48,383.85 170.93,385.39 171.37,386.92 171.81,388.42 172.25,389.86 172.69,391.24 173.13,392.55 173.57,393.79 174.01,394.94 174.46,396.01 174.90,396.99 175.34,397.89 175.78,398.70 176.22,399.44 176.66,400.09 177.10,400.67 177.55,401.18 177.99,401.62 178.43,401.99 178.87,402.29 179.31,402.53 179.75,402.71 180.19,402.83 180.64,402.90 181.08,402.91 181.52,402.87 181.96,402.77 182.40,402.63 182.84,402.43 183.28,402.18 183.73,401.89 184.17,401.55 184.61,401.16 185.05,400.72 185.49,400.23 185.93,399.69 186.37,399.11 186.82,398.47 187.26,397.78 187.70,397.04 188.14,396.25 188.58,395.41 189.02,394.50 189.46,393.54 189.91,392.53 190.35,391.45 190.79,390.31 191.23,389.10 191.67,387.83 192.11,386.48 192.55,385.07 193.00,383.58 193.44,382.01 193.88,380.37 194.32,378.64 194.76,376.82 195.20,374.92 195.64,372.92 196.09,370.84 196.53,368.65 196.97,366.37 197.41,363.98 197.85,361.49 198.29,358.90 198.73,356.20 199.18,353.40 199.62,350.49 200.06,347.48 200.50,344.37 200.94,341.16 201.38,337.86 201.82,334.48 202.26,331.03 202.71,327.51 203.15,323.94 203.59,320.33 204.03,316.71 204.47,313.09 204.91,309.50 205.35,305.96 205.80,302.49 206.24,299.13 206.68,295.89 207.12,292.82 207.56,289.93 208.00,287.26 208.44,284.82 208.89,282.64 209.33,280.73 209.77,279.10 210.21,277.77 210.65,276.72 211.09,275.97 211.53,275.48 211.98,275.26 212.42,275.27 212.86,275.49 213.30,275.89 213.74,276.45 214.18,277.12 214.62,277.89 215.07,278.71 215.51,279.56 215.95,280.41 216.39,281.23 216.83,282.02 217.27,282.75 217.71,283.41 218.16,284.00 218.60,284.53 219.04,284.99 219.48,285.41 219.92,285.81 220.36,286.21 220.80,286.63 221.25,287.13 221.69,287.73 222.13,288.46 222.57,289.38 223.01,290.50 223.45,291.86 223.89,293.48 224.34,295.38 224.78,297.55 225.22,299.99 225.66,302.70 226.10,305.65 226.54,308.81 226.98,312.14 227.43,315.63 227.87,319.21 228.31,322.87 228.75,326.57 229.19,330.27 229.63,333.94 230.07,337.57 230.51,341.12 230.96,344.59 231.40,347.95 231.84,351.19 232.28,354.32 232.72,357.32 233.16,360.19 233.60,362.93 234.05,365.54 234.49,368.03 234.93,370.39 235.37,372.63 235.81,374.75 236.25,376.75 236.69,378.65 237.14,380.44 237.58,382.13 238.02,383.72 238.46,385.23 238.90,386.64 239.34,387.97 239.78,389.22 240.23,390.39 240.67,391.49 241.11,392.52 241.55,393.48 241.99,394.38 242.43,395.22 242.87,395.99 243.32,396.71 243.76,397.38 244.20,397.99 244.64,398.55 245.08,399.06 245.52,399.52 245.96,399.93 246.41,400.30 246.85,400.62 247.29,400.89 247.73,401.12 248.17,401.31 248.61,401.45 249.05,401.55 249.50,401.61 249.94,401.62 250.38,401.58 250.82,401.50 251.26,401.38 251.70,401.21 252.14,400.99 252.59,400.72 253.03,400.40 253.47,400.04 253.91,399.62 254.35,399.14 254.79,398.61 255.23,398.02 255.68,397.37 256.12,396.65 256.56,395.87 257.00,395.02 257.44,394.09 257.88,393.09 258.32,392.01 258.76,390.85 259.21,389.60 259.65,388.25 260.09,386.81 260.53,385.28 260.97,383.63 261.41,381.88 261.85,380.01 262.30,378.02 262.74,375.92 263.18,373.68 263.62,371.33 264.06,368.84 264.50,366.22 264.94,363.47 265.39,360.60 265.83,357.61 266.27,354.50 266.71,351.30 267.15,348.01 267.59,344.66 268.03,341.27 268.48,337.86 268.92,334.48 269.36,331.16 269.80,327.94 270.24,324.89 270.68,322.03 271.12,319.44 271.57,317.16 272.01,315.24 272.45,313.72 272.89,312.65 273.33,312.05 273.77,311.93 274.21,312.32 274.66,313.19 275.10,314.52 275.54,316.31 275.98,318.49 276.42,321.03 276.86,323.88 277.30,326.98 277.75,330.29 278.19,333.75 278.63,337.31 279.07,340.94 279.51,344.59 279.95,348.22 280.39,351.81 280.84,355.35 281.28,358.79 281.72,362.14 282.16,365.38 282.60,368.50 283.04,371.50 283.48,374.38 283.93,377.12 284.37,379.75 284.81,382.25 285.25,384.63 285.69,386.89 286.13,389.04 286.57,391.09 287.01,393.03 287.46,394.87 287.90,396.62 288.34,398.27 288.78,399.85 289.22,401.34 289.66,402.76 290.10,404.11 290.55,405.38 290.99,406.60 291.43,407.75 291.87,408.85 292.31,409.90 292.75,410.89 293.19,411.84 293.64,412.74 294.08,413.60 294.52,414.42 294.96,415.20 295.40,415.95 295.84,416.66 296.28,417.34 296.73,418.00 297.17,418.62 297.61,419.22 298.05,419.79 298.49,420.34 298.93,420.87 299.37,421.37 299.82,421.85 300.26,422.32 300.70,422.77 301.14,423.20 301.58,423.61 302.02,424.01 302.46,424.39 302.91,424.76 303.35,425.11 303.79,425.46 304.23,425.79 304.67,426.11 305.11,426.41 305.55,426.71 306.00,427.00 306.44,427.28 306.88,427.54 307.32,427.80 307.76,428.05 308.20,428.30 308.64,428.53 309.09,428.76 309.53,428.98 309.97,429.20 310.41,429.40 310.85,429.61 311.29,429.80 311.73,429.99 312.18,430.18 312.62,430.36 313.06,430.53 313.50,430.70 313.94,430.86 314.38,431.02 314.82,431.18 315.26,431.33 315.71,431.48 316.15,431.62 316.59,431.76 317.03,431.90 317.47,432.03 317.91,432.16 318.35,432.29 318.80,432.41 319.24,432.53 319.68,432.65 320.12,432.76 320.56,432.87 321.00,432.98 321.44,433.09 321.89,433.19 322.33,433.29 322.77,433.39 323.21,433.49 323.65,433.58 324.09,433.67 324.53,433.76 324.98,433.85 325.42,433.94 325.86,434.02 326.30,434.11" fill="none" stroke="#000000" stroke-width="1.5" stroke-linejoin="round"/>
<polyline clip-path="url(#cs3)" points="43.80,440.24 44.24,440.23 44.68,440.23 45.12,440.23 45.57,440.22 46.01,440.22 46.45,440.21 46.89,440.21 47.33,440.20 47.77,440.20 48.21,440.19 48.66,440.19 49.10,440.18 49.54,440.18 49.98,440.18 50.42,440.17 50.86,440.17 51.30,440.16 51.75,440.16 52.19,440.15 52.63,440.15 53.07,440.14 53.51,440.14 53.95,440.13 54.39,440.12 54.84,440.12 55.28,440.11 55.72,440.11 56.16,440.10 56.60,440.10 57.04,440.09 57.48,440.09 57.93,440.08 58.37,440.07 58.81,440.07 59.25,440.06 59.69,440.05 60.13,440.05 60.57,440.04 61.01,440.04 61.46,440.03 61.90,440.02 62.34,440.02 62.78,440.01 63.22,440.00 63.66,439.99 64.10,439.99 64.55,439.98 64.99,439.97 65.43,439.97 65.87,439.96 66.31,439.95 66.75,439.94 67.19,439.93 67.64,439.93 68.08,439.92 68.52,439.91 68.96,439.90 69.40,439.89 69.84,439.88 70.28,439.87 70.73,439.87 71.17,439.86 71.61,439.85 72.05,439.84 72.49,439.83 72.93,439.82 73.37,439.81 73.82,439.80 74.26,439.79 74.70,439.78 75.14,439.77 75.58,439.75 76.02,439.74 76.46,439.73 76.91,439.72 77.35,439.71 77.79,439.70 78.23,439.68 78.67,439.67 79.11,439.66 79.55,439.65 80.00,439.63 80.44,439.62 80.88,439.60 81.32,439.59 81.76,439.58 82.20,439.56 82.64,439.54 83.09,439.53 83.53,439.51 83.97,439.50 84.41,439.48 84.85,439.46 85.29,439.44 85.73,439.43 86.18,439.41 86.62,439.39 87.06,439.37 87.50,439.35 87.94,439.33 88.38,439.31 88.82,439.28 89.26,439.26 89.71,439.24 90.15,439.21 90.59,439.19 91.03,439.16 91.47,439.14 91.91,439.11 92.35,439.08 92.80,439.05 93.24,439.02 93.68,438.99 94.12,438.96 94.56,438.92 95.00,438.89 95.44,438.85 95.89,438.82 96.33,438.78 96.77,438.74 97.21,438.69 97.65,438.65 98.09,438.61 98.53,438.56 98.98,438.51 99.42,438.46 99.86,438.41 100.30,438.35 100.74,438.29 101.18,438.23 101.62,438.17 102.07,438.11 102.51,438.04 102.95,437.97 103.39,437.90 103.83,437.83 104.27,437.75 104.71,437.68 105.16,437.60 105.60,437.52 106.04,437.43 106.48,437.35 106.92,437.27 107.36,437.19 107.80,437.10 108.25,437.02 108.69,436.94 109.13,436.87 109.57,436.80 110.01,436.73 110.45,436.67 110.89,436.61 111.34,436.56 111.78,436.52 112.22,436.48 112.66,436.45 113.10,436.43 113.54,436.41 113.98,436.41 114.43,436.40 114.87,436.41 115.31,436.41 115.75,436.42 116.19,436.44 116.63,436.45 117.07,436.47 117.51,436.49 117.96,436.50 118.40,436.52 118.84,436.54 119.28,436.55 119.72,436.56 120.16,436.57 120.60,436.57 121.05,436.58 121.49,436.58 121.93,436.57 122.37,436.56 122.81,436.55 123.25,436.54 123.69,436.52 124.14,436.49 124.58,436.47 125.02,436.44 125.46,436.40 125.90,436.36 126.34,436.32 126.78,436.27 127.23,436.22 127.67,436.17 128.11,436.11 128.55,436.04 128.99,435.97 129.43,435.90 129.87,435.82 130.32,435.74 130.76,435.65 131.20,435.55 131.64,435.45 132.08,435.35 132.52,435.24 132.96,435.12 133.41,435.00 133.85,434.87 134.29,434.73 134.73,434.58 135.17,434.43 135.61,434.26 136.05,434.09 136.50,433.91 136.94,433.72 137.38,433.51 137.82,433.30 138.26,433.07 138.70,432.83 139.14,432.57 139.59,432.30 140.03,432.01 140.47,431.71 140.91,431.38 141.35,431.04 141.79,430.67 142.23,430.28 142.68,429.86 143.12,429.42 143.56,428.95 144.00,428.45 144.44,427.91 144.88,427.35 145.32,426.75 145.76,426.11 146.21,425.44 146.65,424.73 147.09,423.98 147.53,423.20 147.97,422.40 148.41,421.56 148.85,420.72 149.30,419.86 149.74,419.00 150.18,418.16 150.62,417.35 151.06,416.58 151.50,415.87 151.94,415.24 152.39,414.70 152.83,414.25 153.27,413.91 153.71,413.67 154.15,413.52 154.59,413.47 155.03,413.49 155.48,413.56 155.92,413.68 156.36,413.83 156.80,413.98 157.24,414.14 157.68,414.28 158.12,414.39 158.57,414.48 159.01,414.53 159.45,414.54 159.89,414.51 160.33,414.45 160.77,414.35 161.21,414.21 161.66,414.06 162.10,413.87 162.54,413.68 162.98,413.47 163.42,413.27 163.86,413.06 164.30,412.88 164.75,412.71 165.19,412.57 165.63,412.47 166.07,412.41 166.51,412.40 166.95,412.43 167.39,412.52 167.84,412.66 168.28,412.86 168.72,413.10 169.16,413.40 169.60,413.73 170.04,414.11 170.48,414.53 170.93,414.97 171.37,415.44 171.81,415.93 172.25,416.42 172.69,416.93 173.13,417.43 173.57,417.93 174.01,418.43 174.46,418.91 174.90,419.38 175.34,419.84 175.78,420.27 176.22,420.69 176.66,421.08 177.10,421.45 177.55,421.80 177.99,422.13 178.43,422.43 178.87,422.70 179.31,422.95 179.75,423.18 180.19,423.39 180.64,423.57 181.08,423.73 181.52,423.86 181.96,423.97 182.40,424.06 182.84,424.13 183.28,424.17 183.73,424.19 184.17,424.20 184.61,424.18 185.05,424.13 185.49,424.07 185.93,423.98 186.37,423.88 186.82,423.75 187.26,423.60 187.70,423.43 188.14,423.23 188.58,423.01 189.02,422.77 189.46,422.50 189.91,422.21 190.35,421.89 190.79,421.55 191.23,421.18 191.67,420.78 192.11,420.35 192.55,419.90 193.00,419.41 193.44,418.89 193.88,418.33 194.32,417.74 194.76,417.11 195.20,416.45 195.64,415.74 196.09,415.00 196.53,414.21 196.97,413.37 197.41,412.49 197.85,411.56 198.29,410.59 198.73,409.56 199.18,408.47 199.62,407.34 200.06,406.14 200.50,404.90 200.94,403.59 201.38,402.23 201.82,400.82 202.26,399.35 202.71,397.83 203.15,396.27 203.59,394.66 204.03,393.02 204.47,391.35 204.91,389.65 205.35,387.95 205.80,386.25 206.24,384.56 206.68,382.90 207.12,381.29 207.56,379.74 208.00,378.26 208.44,376.88 208.89,375.61 209.33,374.47 209.77,373.46 210.21,372.60 210.65,371.88 211.09,371.33 211.53,370.92 211.98,370.67 212.42,370.56 212.86,370.57 213.30,370.70 213.74,370.92 214.18,371.22 214.62,371.58 215.07,371.98 215.51,372.40 215.95,372.82 216.39,373.23 216.83,373.62 217.27,373.97 217.71,374.29 218.16,374.56 218.60,374.79 219.04,374.99 219.48,375.16 219.92,375.33 220.36,375.51 220.80,375.71 221.25,375.97 221.69,376.31 222.13,376.75 222.57,377.32 223.01,378.02 223.45,378.88 223.89,379.90 224.34,381.08 224.78,382.41 225.22,383.87 225.66,385.46 226.10,387.14 226.54,388.90 226.98,390.70 227.43,392.54 227.87,394.38 228.31,396.22 228.75,398.02 229.19,399.78 229.63,401.49 230.07,403.15 230.51,404.73 230.96,406.25 231.40,407.70 231.84,409.08 232.28,410.38 232.72,411.62 233.16,412.79 233.60,413.90 234.05,414.94 234.49,415.93 234.93,416.86 235.37,417.73 235.81,418.56 236.25,419.34 236.69,420.07 237.14,420.77 237.58,421.42 238.02,422.03 238.46,422.61 238.90,423.16 239.34,423.67 239.78,424.16 240.23,424.62 240.67,425.05 241.11,425.46 241.55,425.84 241.99,426.21 242.43,426.55 242.87,426.87 243.32,427.17 243.76,427.46 244.20,427.72 244.64,427.97 245.08,428.21 245.52,428.43 245.96,428.64 246.41,428.83 246.85,429.01 247.29,429.17 247.73,429.32 248.17,429.46 248.61,429.59 249.05,429.71 249.50,429.81 249.94,429.90 250.38,429.99 250.82,430.06 251.26,430.12 251.70,430.16 252.14,430.20 252.59,430.23 253.03,430.24 253.47,430.25 253.91,430.24 254.35,430.22 254.79,430.20 255.23,430.16 255.68,430.10 256.12,430.04 256.56,429.96 257.00,429.87 257.44,429.77 257.88,429.66 258.32,429.53 258.76,429.39 259.21,429.23 259.65,429.06 260.09,428.88 260.53,428.68 260.97,428.47 261.41,428.24 261.85,428.00 262.30,427.75 262.74,427.48 263.18,427.19 263.62,426.89 264.06,426.58 264.50,426.26 264.94,425.93 265.39,425.59 265.83,425.24 266.27,424.88 266.71,424.52 267.15,424.17 267.59,423.81 268.03,423.47 268.48,423.13 268.92,422.81 269.36,422.51 269.80,422.23 270.24,421.98 270.68,421.77 271.12,421.59 271.57,421.45 272.01,421.36 272.45,421.31 272.89,421.31 273.33,421.36 273.77,421.46 274.21,421.60 274.66,421.79 275.10,422.03 275.54,422.30 275.98,422.61 276.42,422.96 276.86,423.33 277.30,423.72 277.75,424.13 278.19,424.56 278.63,425.00 279.07,425.44 279.51,425.89 279.95,426.34 280.39,426.78 280.84,427.22 281.28,427.66 281.72,428.08 282.16,428.50 282.60,428.90 283.04,429.30 283.48,429.68 283.93,430.05 284.37,430.40 284.81,430.74 285.25,431.07 285.69,431.39 286.13,431.70 286.57,431.99 287.01,432.27 287.46,432.54 287.90,432.80 288.34,433.04 288.78,433.28 289.22,433.51 289.66,433.72 290.10,433.93 290.55,434.13 290.99,434.32 291.43,434.51 291.87,434.68 292.31,434.85 292.75,435.01 293.19,435.17 293.64,435.32 294.08,435.46 294.52,435.60 294.96,435.73 295.40,435.85 295.84,435.98 296.28,436.09 296.73,436.21 297.17,436.31 297.61,436.42 298.05,436.52 298.49,436.62 298.93,436.71 299.37,436.80 299.82,436.89 300.26,436.97 300.70,437.05 301.14,437.13 301.58,437.20 302.02,437.28 302.46,437.35 302.91,437.42 303.35,437.48 303.79,437.55 304.23,437.61 304.67,437.67 305.11,437.73 305.55,437.79 306.00,437.84 306.44,437.89 306.88,437.95 307.32,438.00 307.76,438.04 308.20,438.09 308.64,438.14 309.09,438.18 309.53,438.23 309.97,438.27 310.41,438.31 310.85,438.35 311.29,438.39 311.73,438.43 312.18,438.46 312.62,438.50 313.06,438.54 313.50,438.57 313.94,438.60 314.38,438.64 314.82,438.67 315.26,438.70 315.71,438.73 316.15,438.76 316.59,438.79 317.03,438.82 317.47,438.84 317.91,438.87 318.35,438.90 318.80,438.92 319.24,438.95 319.68,438.97 320.12,439.00 320.56,439.02 321.00,439.04 321.44,439.07 321.89,439.09 322.33,439.11 322.77,439.13 323.21,439.15 323.65,439.17 324.09,439.19 324.53,439.21 324.98,439.23 325.42,439.25 325.86,439.27 326.30,439.29" fill="none" stroke="#0000ff" stroke-width="1.5" stroke-linejoin="round"/>
<polyline clip-path="url(#cs3)" points="43.80,440.56 44.24,440.56 44.68,440.56 45.12,440.55 45.57,440.55 46.01,440.55 46.45,440.55 46.89,440.54 47.33,440.54 47.77,440.54 48.21,440.53 48.66,440.53 49.10,440.53 49.54,440.52 49.98,440.52 50.42,440.52 50.86,440.51 51.30,440.51 51.75,440.51 52.19,440.50 52.63,440.50 53.07,440.50 53.51,440.49 53.95,440.49 54.39,440.49 54.84,440.48 55.28,440.48 55.72,440.48 56.16,440.47 56.60,440.47 57.04,440.46 57.48,440.46 57.93,440.46 58.37,440.45 58.81,440.45 59.25,440.44 59.69,440.44 60.13,440.44 60.57,440.43 61.01,440.43 61.46,440.42 61.90,440.42 62.34,440.41 62.78,440.41 63.22,440.40 63.66,440.40 64.10,440.40 64.55,440.39 64.99,440.39 65.43,440.38 65.87,440.38 66.31,440.37 66.75,440.37 67.19,440.36 67.64,440.35 68.08,440.35 68.52,440.34 68.96,440.34 69.40,440.33 69.84,440.33 70.28,440.32 70.73,440.31 71.17,440.31 71.61,440.30 72.05,440.29 72.49,440.29 72.93,440.28 73.37,440.27 73.82,440.27 74.26,440.26 74.70,440.25 75.14,440.25 75.58,440.24 76.02,440.23 76.46,440.22 76.91,440.21 77.35,440.21 77.79,440.20 78.23,440.19 78.67,440.18 79.11,440.17 79.55,440.16 80.00,440.15 80.44,440.14 80.88,440.13 81.32,440.12 81.76,440.11 82.20,440.10 82.64,440.09 83.09,440.08 83.53,440.07 83.97,440.06 84.41,440.04 84.85,440.03 85.29,440.02 85.73,440.01 86.18,439.99 86.62,439.98 87.06,439.96 87.50,439.95 87.94,439.93 88.38,439.92 88.82,439.90 89.26,439.88 89.71,439.87 90.15,439.85 90.59,439.83 91.03,439.81 91.47,439.79 91.91,439.77 92.35,439.75 92.80,439.73 93.24,439.70 93.68,439.68 94.12,439.66 94.56,439.63 95.00,439.61 95.44,439.58 95.89,439.56 96.33,439.53 96.77,439.50 97.21,439.47 97.65,439.44 98.09,439.41 98.53,439.38 98.98,439.35 99.42,439.32 99.86,439.29 100.30,439.25 100.74,439.22 101.18,439.18 101.62,439.14 102.07,439.10 102.51,439.06 102.95,439.02 103.39,438.98 103.83,438.93 104.27,438.88 104.71,438.83 105.16,438.78 105.60,438.73 106.04,438.68 106.48,438.63 106.92,438.57 107.36,438.52 107.80,438.47 108.25,438.42 108.69,438.37 109.13,438.32 109.57,438.28 110.01,438.24 110.45,438.20 110.89,438.17 111.34,438.14 111.78,438.12 112.22,438.11 112.66,438.09 113.10,438.09 113.54,438.09 113.98,438.09 114.43,438.10 114.87,438.11 115.31,438.13 115.75,438.14 116.19,438.16 116.63,438.18 117.07,438.20 117.51,438.21 117.96,438.23 118.40,438.25 118.84,438.26 119.28,438.28 119.72,438.29 120.16,438.30 120.60,438.31 121.05,438.31 121.49,438.32 121.93,438.32 122.37,438.32 122.81,438.31 123.25,438.31 123.69,438.30 124.14,438.29 124.58,438.27 125.02,438.26 125.46,438.24 125.90,438.22 126.34,438.20 126.78,438.17 127.23,438.14 127.67,438.11 128.11,438.08 128.55,438.04 128.99,438.00 129.43,437.96 129.87,437.92 130.32,437.87 130.76,437.82 131.20,437.77 131.64,437.71 132.08,437.65 132.52,437.59 132.96,437.52 133.41,437.45 133.85,437.38 134.29,437.30 134.73,437.22 135.17,437.13 135.61,437.04 136.05,436.94 136.50,436.84 136.94,436.73 137.38,436.61 137.82,436.49 138.26,436.36 138.70,436.23 139.14,436.08 139.59,435.92 140.03,435.76 140.47,435.58 140.91,435.40 141.35,435.20 141.79,434.99 142.23,434.76 142.68,434.52 143.12,434.26 143.56,433.98 144.00,433.69 144.44,433.37 144.88,433.03 145.32,432.67 145.76,432.28 146.21,431.87 146.65,431.43 147.09,430.97 147.53,430.48 147.97,429.97 148.41,429.44 148.85,428.89 149.30,428.33 149.74,427.76 150.18,427.21 150.62,426.66 151.06,426.15 151.50,425.68 151.94,425.26 152.39,424.91 152.83,424.63 153.27,424.43 153.71,424.30 154.15,424.25 154.59,424.26 155.03,424.33 155.48,424.43 155.92,424.57 156.36,424.71 156.80,424.87 157.24,425.01 157.68,425.14 158.12,425.25 158.57,425.33 159.01,425.38 159.45,425.41 159.89,425.40 160.33,425.37 160.77,425.31 161.21,425.23 161.66,425.12 162.10,425.00 162.54,424.87 162.98,424.73 163.42,424.58 163.86,424.44 164.30,424.31 164.75,424.19 165.19,424.08 165.63,424.00 166.07,423.94 166.51,423.91 166.95,423.91 167.39,423.94 167.84,424.01 168.28,424.11 168.72,424.25 169.16,424.41 169.60,424.60 170.04,424.82 170.48,425.05 170.93,425.31 171.37,425.58 171.81,425.85 172.25,426.14 172.69,426.42 173.13,426.71 173.57,426.99 174.01,427.27 174.46,427.54 174.90,427.79 175.34,428.04 175.78,428.28 176.22,428.50 176.66,428.70 177.10,428.90 177.55,429.07 177.99,429.24 178.43,429.38 178.87,429.51 179.31,429.63 179.75,429.73 180.19,429.82 180.64,429.89 181.08,429.94 181.52,429.99 181.96,430.01 182.40,430.03 182.84,430.03 183.28,430.01 183.73,429.98 184.17,429.94 184.61,429.89 185.05,429.82 185.49,429.73 185.93,429.64 186.37,429.52 186.82,429.40 187.26,429.26 187.70,429.10 188.14,428.94 188.58,428.75 189.02,428.55 189.46,428.34 189.91,428.10 190.35,427.86 190.79,427.59 191.23,427.31 191.67,427.00 192.11,426.68 192.55,426.34 193.00,425.98 193.44,425.60 193.88,425.19 194.32,424.76 194.76,424.31 195.20,423.84 195.64,423.33 196.09,422.81 196.53,422.25 196.97,421.67 197.41,421.06 197.85,420.42 198.29,419.75 198.73,419.05 199.18,418.32 199.62,417.56 200.06,416.77 200.50,415.95 200.94,415.11 201.38,414.24 201.82,413.34 202.26,412.43 202.71,411.49 203.15,410.55 203.59,409.59 204.03,408.63 204.47,407.68 204.91,406.73 205.35,405.81 205.80,404.91 206.24,404.04 206.68,403.22 207.12,402.45 207.56,401.74 208.00,401.10 208.44,400.52 208.89,400.03 209.33,399.61 209.77,399.28 210.21,399.03 210.65,398.86 211.09,398.77 211.53,398.75 211.98,398.79 212.42,398.89 212.86,399.04 213.30,399.24 213.74,399.46 214.18,399.71 214.62,399.97 215.07,400.24 215.51,400.52 215.95,400.79 216.39,401.06 216.83,401.31 217.27,401.55 217.71,401.78 218.16,401.99 218.60,402.19 219.04,402.38 219.48,402.56 219.92,402.73 220.36,402.89 220.80,403.06 221.25,403.23 221.69,403.41 222.13,403.60 222.57,403.81 223.01,404.05 223.45,404.31 223.89,404.60 224.34,404.93 224.78,405.29 225.22,405.68 225.66,406.12 226.10,406.59 226.54,407.10 226.98,407.64 227.43,408.22 227.87,408.82 228.31,409.46 228.75,410.11 229.19,410.79 229.63,411.48 230.07,412.19 230.51,412.90 230.96,413.62 231.40,414.34 231.84,415.06 232.28,415.78 232.72,416.49 233.16,417.19 233.60,417.87 234.05,418.55 234.49,419.21 234.93,419.85 235.37,420.48 235.81,421.09 236.25,421.68 236.69,422.25 237.14,422.80 237.58,423.33 238.02,423.85 238.46,424.35 238.90,424.82 239.34,425.28 239.78,425.72 240.23,426.15 240.67,426.56 241.11,426.95 241.55,427.32 241.99,427.68 242.43,428.03 242.87,428.35 243.32,428.67 243.76,428.97 244.20,429.26 244.64,429.53 245.08,429.79 245.52,430.04 245.96,430.28 246.41,430.51 246.85,430.73 247.29,430.93 247.73,431.13 248.17,431.31 248.61,431.49 249.05,431.65 249.50,431.81 249.94,431.95 250.38,432.09 250.82,432.22 251.26,432.34 251.70,432.45 252.14,432.56 252.59,432.65 253.03,432.74 253.47,432.82 253.91,432.88 254.35,432.95 254.79,433.00 255.23,433.04 255.68,433.08 256.12,433.10 256.56,433.12 257.00,433.13 257.44,433.12 257.88,433.11 258.32,433.09 258.76,433.06 259.21,433.01 259.65,432.96 260.09,432.89 260.53,432.81 260.97,432.72 261.41,432.61 261.85,432.49 262.30,432.36 262.74,432.21 263.18,432.04 263.62,431.86 264.06,431.66 264.50,431.44 264.94,431.21 265.39,430.95 265.83,430.68 266.27,430.39 266.71,430.08 267.15,429.75 267.59,429.41 268.03,429.05 268.48,428.68 268.92,428.30 269.36,427.92 269.80,427.54 270.24,427.17 270.68,426.82 271.12,426.48 271.57,426.17 272.01,425.90 272.45,425.68 272.89,425.51 273.33,425.40 273.77,425.35 274.21,425.37 274.66,425.45 275.10,425.60 275.54,425.81 275.98,426.08 276.42,426.40 276.86,426.76 277.30,427.16 277.75,427.58 278.19,428.03 278.63,428.48 279.07,428.94 279.51,429.41 279.95,429.86 280.39,430.31 280.84,430.75 281.28,431.17 281.72,431.58 282.16,431.97 282.60,432.35 283.04,432.71 283.48,433.05 283.93,433.37 284.37,433.67 284.81,433.96 285.25,434.24 285.69,434.50 286.13,434.74 286.57,434.97 287.01,435.19 287.46,435.40 287.90,435.60 288.34,435.78 288.78,435.96 289.22,436.12 289.66,436.28 290.10,436.43 290.55,436.57 290.99,436.71 291.43,436.83 291.87,436.95 292.31,437.07 292.75,437.18 293.19,437.28 293.64,437.38 294.08,437.48 294.52,437.57 294.96,437.66 295.40,437.74 295.84,437.82 296.28,437.90 296.73,437.97 297.17,438.04 297.61,438.11 298.05,438.17 298.49,438.23 298.93,438.29 299.37,438.35 299.82,438.41 300.26,438.46 300.70,438.51 301.14,438.56 301.58,438.61 302.02,438.65 302.46,438.70 302.91,438.74 303.35,438.78 303.79,438.82 304.23,438.86 304.67,438.90 305.11,438.93 305.55,438.97 306.00,439.00 306.44,439.04 306.88,439.07 307.32,439.10 307.76,439.13 308.20,439.16 308.64,439.19 309.09,439.22 309.53,439.24 309.97,439.27 310.41,439.30 310.85,439.32 311.29,439.35 311.73,439.37 312.18,439.39 312.62,439.42 313.06,439.44 313.50,439.46 313.94,439.48 314.38,439.50 314.82,439.52 315.26,439.54 315.71,439.56 316.15,439.58 316.59,439.60 317.03,439.61 317.47,439.63 317.91,439.65 318.35,439.66 318.80,439.68 319.24,439.70 319.68,439.71 320.12,439.73 320.56,439.74 321.00,439.76 321.44,439.77 321.89,439.79 322.33,439.80 322.77,439.81 323.21,439.83 323.65,439.84 324.09,439.85 324.53,439.86 324.98,439.88 325.42,439.89 325.86,439.90 326.30,439.91" fill="none" stroke="#ff0000" stroke-width="1.5" stroke-linejoin="round"/>
<text transform="translate(43.80,460.95) scale(0.97,1.07)" font-size="15.6" text-anchor="middle" fill="#262626">1.4</text>
<text transform="translate(79.11,460.95) scale(0.97,1.07)" font-size="15.6" text-anchor="middle" fill="#262626">1.5</text>
<text transform="translate(114.42,460.95) scale(0.97,1.07)" font-size="15.6" text-anchor="middle" fill="#262626">1.6</text>
<text transform="translate(149.74,460.95) scale(0.97,1.07)" font-size="15.6" text-anchor="middle" fill="#262626">1.7</text>
<text transform="translate(185.05,460.95) scale(0.97,1.07)" font-size="15.6" text-anchor="middle" fill="#262626">1.8</text>
<text transform="translate(220.36,460.95) scale(0.97,1.07)" font-size="15.6" text-anchor="middle" fill="#262626">1.9</text>
<text transform="translate(255.68,460.95) scale(0.97,1.07)" font-size="15.6" text-anchor="middle" fill="#262626">2</text>
<text transform="translate(290.99,460.95) scale(0.97,1.07)" font-size="15.6" text-anchor="middle" fill="#262626">2.1</text>
<text transform="translate(326.30,460.95) scale(0.97,1.07)" font-size="15.6" text-anchor="middle" fill="#262626">2.2</text>
<text transform="translate(37.90,413.26) scale(0.97,1.07)" font-size="15.6" text-anchor="end" fill="#262626">0.2</text>
<text transform="translate(37.90,380.12) scale(0.97,1.07)" font-size="15.6" text-anchor="end" fill="#262626">0.4</text>
<text transform="translate(37.90,346.98) scale(0.97,1.07)" font-size="15.6" text-anchor="end" fill="#262626">0.6</text>
<text transform="translate(37.90,313.84) scale(0.97,1.07)" font-size="15.6" text-anchor="end" fill="#262626">0.8</text>
<text transform="translate(37.90,280.70) scale(0.97,1.07)" font-size="15.6" text-anchor="end" fill="#262626">1</text>
<g transform="translate(115.70,482.40) scale(1.0048,1.0)"><text fill="#262626" font-size="17.1">Photon Energy [eV]</text></g>
<g transform="translate(11.90,440.40) rotate(-90) scale(1.0015,1)"><text fill="#262626" font-size="17.1">EL Intensity [arb. units]</text></g>
<g transform="translate(52.07,266.20) scale(1.0579,1.07)"><text fill="#000" font-size="16.6"><tspan font-style="italic">ħg</tspan><tspan font-size="10.96" dy="2.6">00</tspan></text></g>
<path d="M82.70 260.25H93.90M82.70 263.35H93.90" stroke="#000" stroke-width="0.8"/>
<g transform="translate(95.79,266.20) scale(1.0735,1.07)"><text fill="#000" font-size="16.6">20meV,</text></g>
<g transform="translate(156.23,266.20) scale(1.1312,1.07)"><text fill="#000" font-size="16.6" font-style="italic">ħκ</text></g>
<path d="M176.30 260.25H187.60M176.30 263.35H187.60" stroke="#000" stroke-width="0.8"/>
<g transform="translate(188.69,266.20) scale(1.0756,1.07)"><text fill="#000" font-size="16.6">10meV,</text></g>
<g transform="translate(249.75,266.20) scale(1.2947,1.07)"><text fill="#000" font-size="16.6">Δ</text></g>
<path d="M264.40 260.25H275.60M264.40 263.35H275.60" stroke="#000" stroke-width="0.8"/>
<g transform="translate(276.58,266.20) scale(1.0375,1.07)"><text fill="#000" font-size="16.6">0meV</text></g>
<rect x="56.30" y="287.60" width="110.2" height="60.9" fill="#fff" stroke="#262626" stroke-width="0.65"/>
<path d="M63.90 299.40H102.00" stroke="#000000" stroke-width="1.3"/>
<g transform="translate(105.61,302.90) scale(1.0500,1.05)"><text fill="#000" font-size="15.1" font-style="italic">V</text></g>
<g transform="translate(114.56,305.50) scale(0.9474,1.0)"><text fill="#000" font-size="10.57" font-style="italic">b</text></g>
<path d="M120.90 297.50H130.90M120.90 300.50H130.90" stroke="#000" stroke-width="0.8"/>
<g transform="translate(131.59,302.90) scale(1.0256,1.05)"><text fill="#000" font-size="15.1">2.5V</text></g>
<path d="M63.90 318.10H102.00" stroke="#0000ff" stroke-width="1.3"/>
<g transform="translate(105.61,321.75) scale(1.0500,1.05)"><text fill="#000" font-size="15.1" font-style="italic">V</text></g>
<g transform="translate(114.56,324.35) scale(0.9474,1.0)"><text fill="#000" font-size="10.57" font-style="italic">b</text></g>
<path d="M120.90 316.35H130.90M120.90 319.35H130.90" stroke="#000" stroke-width="0.8"/>
<g transform="translate(130.78,321.75) scale(1.0526,1.05)"><text fill="#000" font-size="15.1">1.9V</text></g>
<path d="M63.90 336.80H102.00" stroke="#ff0000" stroke-width="1.3"/>
<g transform="translate(105.61,340.60) scale(1.0500,1.05)"><text fill="#000" font-size="15.1" font-style="italic">V</text></g>
<g transform="translate(114.56,343.20) scale(0.9474,1.0)"><text fill="#000" font-size="10.57" font-style="italic">b</text></g>
<path d="M120.90 335.20H130.90M120.90 338.20H130.90" stroke="#000" stroke-width="0.8"/>
<g transform="translate(130.78,340.60) scale(1.0526,1.05)"><text fill="#000" font-size="15.1">1.8V</text></g>
<clipPath id="cs4"><rect x="391.50" y="274.10" width="282.20" height="167.00"/></clipPath>
<rect x="391.50" y="275.10" width="282.20" height="166.00" fill="none" stroke="#262626" stroke-width="0.65"/>
<path d="M409.14 441.10v-2.1M409.14 275.10v2.1M426.78 441.10v-2.1M426.78 275.10v2.1M444.41 441.10v-2.1M444.41 275.10v2.1M462.05 441.10v-2.1M462.05 275.10v2.1M479.69 441.10v-2.1M479.69 275.10v2.1M497.33 441.10v-2.1M497.33 275.10v2.1M514.96 441.10v-2.1M514.96 275.10v2.1M532.60 441.10v-2.1M532.60 275.10v2.1M550.24 441.10v-2.1M550.24 275.10v2.1M567.88 441.10v-2.1M567.88 275.10v2.1M585.51 441.10v-2.1M585.51 275.10v2.1M603.15 441.10v-2.1M603.15 275.10v2.1M620.79 441.10v-2.1M620.79 275.10v2.1M638.43 441.10v-2.1M638.43 275.10v2.1M656.06 441.10v-2.1M656.06 275.10v2.1M391.50 424.50h2.1M673.70 424.50h-2.1M391.50 407.90h2.1M673.70 407.90h-2.1M391.50 391.30h2.1M673.70 391.30h-2.1M391.50 374.70h2.1M673.70 374.70h-2.1M391.50 358.10h2.1M673.70 358.10h-2.1M391.50 341.50h2.1M673.70 341.50h-2.1M391.50 324.90h2.1M673.70 324.90h-2.1M391.50 308.30h2.1M673.70 308.30h-2.1M391.50 291.70h2.1M673.70 291.70h-2.1" stroke="#262626" stroke-width="0.65" fill="none"/>
<polyline clip-path="url(#cs4)" points="391.50,438.61 391.94,438.60 392.38,438.58 392.82,438.57 393.26,438.55 393.70,438.54 394.15,438.52 394.59,438.51 395.03,438.49 395.47,438.48 395.91,438.46 396.35,438.45 396.79,438.43 397.23,438.41 397.67,438.40 398.11,438.38 398.56,438.36 399.00,438.35 399.44,438.33 399.88,438.31 400.32,438.29 400.76,438.28 401.20,438.26 401.64,438.24 402.08,438.22 402.52,438.20 402.96,438.18 403.41,438.16 403.85,438.14 404.29,438.12 404.73,438.10 405.17,438.08 405.61,438.06 406.05,438.04 406.49,438.02 406.93,437.99 407.37,437.97 407.81,437.95 408.26,437.92 408.70,437.90 409.14,437.87 409.58,437.85 410.02,437.82 410.46,437.80 410.90,437.77 411.34,437.75 411.78,437.72 412.22,437.69 412.67,437.66 413.11,437.63 413.55,437.60 413.99,437.57 414.43,437.54 414.87,437.51 415.31,437.48 415.75,437.44 416.19,437.41 416.63,437.38 417.07,437.34 417.52,437.30 417.96,437.27 418.40,437.23 418.84,437.19 419.28,437.15 419.72,437.10 420.16,437.06 420.60,437.02 421.04,436.97 421.48,436.92 421.92,436.87 422.37,436.82 422.81,436.77 423.25,436.71 423.69,436.66 424.13,436.60 424.57,436.54 425.01,436.47 425.45,436.41 425.89,436.34 426.33,436.26 426.78,436.19 427.22,436.11 427.66,436.02 428.10,435.93 428.54,435.84 428.98,435.74 429.42,435.64 429.86,435.53 430.30,435.42 430.74,435.30 431.18,435.17 431.63,435.04 432.07,434.90 432.51,434.75 432.95,434.59 433.39,434.43 433.83,434.26 434.27,434.08 434.71,433.90 435.15,433.71 435.59,433.51 436.03,433.32 436.48,433.13 436.92,432.94 437.36,432.77 437.80,432.60 438.24,432.45 438.68,432.32 439.12,432.21 439.56,432.13 440.00,432.07 440.44,432.04 440.89,432.03 441.33,432.04 441.77,432.06 442.21,432.10 442.65,432.16 443.09,432.21 443.53,432.27 443.97,432.33 444.41,432.38 444.85,432.43 445.29,432.48 445.74,432.51 446.18,432.53 446.62,432.55 447.06,432.55 447.50,432.55 447.94,432.53 448.38,432.50 448.82,432.47 449.26,432.42 449.70,432.36 450.14,432.30 450.59,432.22 451.03,432.13 451.47,432.03 451.91,431.92 452.35,431.81 452.79,431.68 453.23,431.54 453.67,431.39 454.11,431.23 454.55,431.06 455.00,430.88 455.44,430.69 455.88,430.49 456.32,430.27 456.76,430.05 457.20,429.82 457.64,429.57 458.08,429.32 458.52,429.06 458.96,428.80 459.40,428.53 459.85,428.26 460.29,427.99 460.73,427.73 461.17,427.47 461.61,427.22 462.05,426.99 462.49,426.77 462.93,426.57 463.37,426.38 463.81,426.22 464.25,426.08 464.70,425.95 465.14,425.85 465.58,425.76 466.02,425.68 466.46,425.61 466.90,425.55 467.34,425.49 467.78,425.43 468.22,425.36 468.66,425.29 469.11,425.21 469.55,425.11 469.99,425.01 470.43,424.88 470.87,424.74 471.31,424.59 471.75,424.41 472.19,424.22 472.63,424.01 473.07,423.78 473.51,423.52 473.96,423.25 474.40,422.95 474.84,422.63 475.28,422.29 475.72,421.93 476.16,421.54 476.60,421.12 477.04,420.68 477.48,420.21 477.92,419.71 478.36,419.19 478.81,418.63 479.25,418.04 479.69,417.42 480.13,416.76 480.57,416.07 481.01,415.34 481.45,414.57 481.89,413.76 482.33,412.91 482.77,412.01 483.22,411.06 483.66,410.07 484.10,409.03 484.54,407.94 484.98,406.80 485.42,405.61 485.86,404.37 486.30,403.08 486.74,401.74 487.18,400.35 487.62,398.92 488.07,397.45 488.51,395.95 488.95,394.43 489.39,392.89 489.83,391.34 490.27,389.81 490.71,388.29 491.15,386.81 491.59,385.39 492.03,384.04 492.47,382.78 492.92,381.63 493.36,380.60 493.80,379.71 494.24,378.97 494.68,378.39 495.12,377.98 495.56,377.73 496.00,377.65 496.44,377.72 496.88,377.94 497.33,378.29 497.77,378.76 498.21,379.33 498.65,379.98 499.09,380.69 499.53,381.44 499.97,382.21 500.41,382.99 500.85,383.76 501.29,384.51 501.73,385.22 502.18,385.88 502.62,386.49 503.06,387.04 503.50,387.51 503.94,387.92 504.38,388.24 504.82,388.49 505.26,388.65 505.70,388.72 506.14,388.71 506.58,388.61 507.03,388.43 507.47,388.16 507.91,387.80 508.35,387.35 508.79,386.83 509.23,386.22 509.67,385.53 510.11,384.77 510.55,383.93 510.99,383.03 511.44,382.07 511.88,381.06 512.32,380.01 512.76,378.92 513.20,377.81 513.64,376.70 514.08,375.59 514.52,374.50 514.96,373.44 515.40,372.44 515.84,371.51 516.29,370.67 516.73,369.93 517.17,369.31 517.61,368.82 518.05,368.46 518.49,368.25 518.93,368.19 519.37,368.26 519.81,368.48 520.25,368.84 520.69,369.31 521.14,369.90 521.58,370.57 522.02,371.33 522.46,372.15 522.90,373.01 523.34,373.91 523.78,374.81 524.22,375.72 524.66,376.61 525.10,377.48 525.55,378.31 525.99,379.10 526.43,379.84 526.87,380.52 527.31,381.13 527.75,381.68 528.19,382.16 528.63,382.56 529.07,382.89 529.51,383.14 529.95,383.30 530.40,383.39 530.84,383.40 531.28,383.33 531.72,383.17 532.16,382.93 532.60,382.60 533.04,382.19 533.48,381.69 533.92,381.10 534.36,380.42 534.80,379.65 535.25,378.79 535.69,377.83 536.13,376.77 536.57,375.62 537.01,374.36 537.45,373.00 537.89,371.53 538.33,369.94 538.77,368.25 539.21,366.43 539.66,364.50 540.10,362.44 540.54,360.25 540.98,357.94 541.42,355.49 541.86,352.91 542.30,350.19 542.74,347.34 543.18,344.36 543.62,341.24 544.06,337.99 544.51,334.62 544.95,331.14 545.39,327.55 545.83,323.87 546.27,320.12 546.71,316.31 547.15,312.48 547.59,308.64 548.03,304.84 548.47,301.10 548.91,297.47 549.36,293.98 549.80,290.67 550.24,287.60 550.68,284.79 551.12,282.29 551.56,280.14 552.00,278.36 552.44,276.97 552.88,275.99 553.32,275.43 553.77,275.27 554.21,275.51 554.65,276.12 555.09,277.08 555.53,278.35 555.97,279.89 556.41,281.65 556.85,283.59 557.29,285.67 557.73,287.85 558.17,290.07 558.62,292.30 559.06,294.50 559.50,296.65 559.94,298.71 560.38,300.67 560.82,302.49 561.26,304.16 561.70,305.67 562.14,307.02 562.58,308.18 563.02,309.17 563.47,309.97 563.91,310.60 564.35,311.04 564.79,311.31 565.23,311.42 565.67,311.38 566.11,311.19 566.55,310.88 566.99,310.46 567.43,309.95 567.88,309.37 568.32,308.74 568.76,308.09 569.20,307.45 569.64,306.84 570.08,306.29 570.52,305.83 570.96,305.48 571.40,305.28 571.84,305.25 572.28,305.41 572.73,305.78 573.17,306.37 573.61,307.19 574.05,308.24 574.49,309.54 574.93,311.06 575.37,312.80 575.81,314.74 576.25,316.88 576.69,319.18 577.13,321.64 577.58,324.21 578.02,326.89 578.46,329.64 578.90,332.45 579.34,335.29 579.78,338.14 580.22,340.99 580.66,343.82 581.10,346.62 581.54,349.37 581.99,352.06 582.43,354.68 582.87,357.23 583.31,359.71 583.75,362.10 584.19,364.41 584.63,366.63 585.07,368.76 585.51,370.81 585.95,372.77 586.39,374.64 586.84,376.43 587.28,378.13 587.72,379.75 588.16,381.29 588.60,382.76 589.04,384.15 589.48,385.46 589.92,386.71 590.36,387.88 590.80,388.99 591.24,390.03 591.69,391.02 592.13,391.94 592.57,392.80 593.01,393.60 593.45,394.35 593.89,395.04 594.33,395.68 594.77,396.27 595.21,396.81 595.65,397.30 596.10,397.74 596.54,398.13 596.98,398.47 597.42,398.77 597.86,399.02 598.30,399.22 598.74,399.37 599.18,399.48 599.62,399.54 600.06,399.55 600.50,399.51 600.95,399.43 601.39,399.29 601.83,399.10 602.27,398.86 602.71,398.57 603.15,398.22 603.59,397.82 604.03,397.36 604.47,396.83 604.91,396.25 605.35,395.60 605.80,394.88 606.24,394.09 606.68,393.23 607.12,392.29 607.56,391.27 608.00,390.17 608.44,388.99 608.88,387.72 609.32,386.35 609.76,384.90 610.21,383.34 610.65,381.69 611.09,379.93 611.53,378.08 611.97,376.12 612.41,374.06 612.85,371.90 613.29,369.65 613.73,367.31 614.17,364.89 614.61,362.40 615.06,359.86 615.50,357.28 615.94,354.69 616.38,352.11 616.82,349.57 617.26,347.09 617.70,344.73 618.14,342.51 618.58,340.47 619.02,338.65 619.46,337.09 619.91,335.83 620.35,334.89 620.79,334.31 621.23,334.08 621.67,334.24 622.11,334.76 622.55,335.66 622.99,336.90 623.43,338.47 623.87,340.33 624.32,342.45 624.76,344.79 625.20,347.31 625.64,349.97 626.08,352.75 626.52,355.59 626.96,358.47 627.40,361.37 627.84,364.25 628.28,367.10 628.72,369.89 629.17,372.62 629.61,375.28 630.05,377.85 630.49,380.33 630.93,382.72 631.37,385.01 631.81,387.20 632.25,389.30 632.69,391.30 633.13,393.21 633.57,395.04 634.02,396.77 634.46,398.42 634.90,399.99 635.34,401.48 635.78,402.90 636.22,404.25 636.66,405.53 637.10,406.75 637.54,407.91 637.98,409.02 638.43,410.07 638.87,411.07 639.31,412.02 639.75,412.93 640.19,413.80 640.63,414.62 641.07,415.41 641.51,416.16 641.95,416.88 642.39,417.57 642.83,418.22 643.28,418.85 643.72,419.45 644.16,420.02 644.60,420.58 645.04,421.10 645.48,421.61 645.92,422.10 646.36,422.56 646.80,423.01 647.24,423.44 647.68,423.85 648.13,424.25 648.57,424.63 649.01,425.00 649.45,425.36 649.89,425.70 650.33,426.03 650.77,426.35 651.21,426.66 651.65,426.95 652.09,427.24 652.54,427.51 652.98,427.78 653.42,428.04 653.86,428.29 654.30,428.53 654.74,428.77 655.18,428.99 655.62,429.21 656.06,429.43 656.50,429.63 656.94,429.83 657.39,430.03 657.83,430.22 658.27,430.40 658.71,430.58 659.15,430.75 659.59,430.92 660.03,431.08 660.47,431.24 660.91,431.40 661.35,431.55 661.79,431.69 662.24,431.83 662.68,431.97 663.12,432.11 663.56,432.24 664.00,432.37 664.44,432.49 664.88,432.62 665.32,432.73 665.76,432.85 666.20,432.96 666.65,433.07 667.09,433.18 667.53,433.29 667.97,433.39 668.41,433.49 668.85,433.59 669.29,433.69 669.73,433.78 670.17,433.87 670.61,433.96 671.05,434.05 671.50,434.13 671.94,434.22 672.38,434.30 672.82,434.38 673.26,434.46 673.70,434.54" fill="none" stroke="#000000" stroke-width="1.5" stroke-linejoin="round"/>
<polyline clip-path="url(#cs4)" points="391.50,440.38 391.94,440.37 392.38,440.36 392.82,440.35 393.26,440.34 393.70,440.33 394.15,440.32 394.59,440.31 395.03,440.30 395.47,440.29 395.91,440.28 396.35,440.27 396.79,440.26 397.23,440.25 397.67,440.24 398.11,440.23 398.56,440.22 399.00,440.21 399.44,440.20 399.88,440.19 400.32,440.18 400.76,440.17 401.20,440.16 401.64,440.14 402.08,440.13 402.52,440.12 402.96,440.11 403.41,440.09 403.85,440.08 404.29,440.07 404.73,440.05 405.17,440.04 405.61,440.03 406.05,440.01 406.49,440.00 406.93,439.98 407.37,439.97 407.81,439.95 408.26,439.94 408.70,439.92 409.14,439.91 409.58,439.89 410.02,439.87 410.46,439.85 410.90,439.84 411.34,439.82 411.78,439.80 412.22,439.78 412.67,439.76 413.11,439.74 413.55,439.72 413.99,439.70 414.43,439.68 414.87,439.66 415.31,439.63 415.75,439.61 416.19,439.59 416.63,439.56 417.07,439.54 417.52,439.51 417.96,439.49 418.40,439.46 418.84,439.43 419.28,439.40 419.72,439.37 420.16,439.34 420.60,439.31 421.04,439.27 421.48,439.24 421.92,439.20 422.37,439.17 422.81,439.13 423.25,439.09 423.69,439.05 424.13,439.00 424.57,438.96 425.01,438.91 425.45,438.87 425.89,438.82 426.33,438.76 426.78,438.71 427.22,438.65 427.66,438.59 428.10,438.53 428.54,438.47 428.98,438.40 429.42,438.33 429.86,438.26 430.30,438.19 430.74,438.11 431.18,438.03 431.63,437.94 432.07,437.86 432.51,437.77 432.95,437.68 433.39,437.59 433.83,437.49 434.27,437.40 434.71,437.30 435.15,437.21 435.59,437.12 436.03,437.02 436.48,436.94 436.92,436.85 437.36,436.77 437.80,436.70 438.24,436.63 438.68,436.57 439.12,436.52 439.56,436.48 440.00,436.44 440.44,436.42 440.89,436.40 441.33,436.39 441.77,436.39 442.21,436.39 442.65,436.40 443.09,436.41 443.53,436.43 443.97,436.45 444.41,436.46 444.85,436.48 445.29,436.50 445.74,436.51 446.18,436.53 446.62,436.54 447.06,436.54 447.50,436.54 447.94,436.54 448.38,436.54 448.82,436.53 449.26,436.51 449.70,436.49 450.14,436.47 450.59,436.43 451.03,436.40 451.47,436.36 451.91,436.31 452.35,436.26 452.79,436.20 453.23,436.14 453.67,436.07 454.11,436.00 454.55,435.92 455.00,435.83 455.44,435.75 455.88,435.65 456.32,435.55 456.76,435.45 457.20,435.34 457.64,435.23 458.08,435.11 458.52,435.00 458.96,434.88 459.40,434.76 459.85,434.64 460.29,434.52 460.73,434.40 461.17,434.29 461.61,434.18 462.05,434.08 462.49,433.98 462.93,433.89 463.37,433.81 463.81,433.74 464.25,433.68 464.70,433.62 465.14,433.57 465.58,433.53 466.02,433.50 466.46,433.46 466.90,433.44 467.34,433.41 467.78,433.39 468.22,433.36 468.66,433.34 469.11,433.31 469.55,433.27 469.99,433.23 470.43,433.19 470.87,433.14 471.31,433.08 471.75,433.02 472.19,432.94 472.63,432.86 473.07,432.77 473.51,432.67 473.96,432.56 474.40,432.44 474.84,432.31 475.28,432.17 475.72,432.02 476.16,431.85 476.60,431.68 477.04,431.49 477.48,431.28 477.92,431.06 478.36,430.83 478.81,430.58 479.25,430.32 479.69,430.04 480.13,429.74 480.57,429.42 481.01,429.08 481.45,428.72 481.89,428.33 482.33,427.92 482.77,427.49 483.22,427.03 483.66,426.54 484.10,426.02 484.54,425.47 484.98,424.89 485.42,424.27 485.86,423.62 486.30,422.93 486.74,422.21 487.18,421.45 487.62,420.65 488.07,419.82 488.51,418.97 488.95,418.08 489.39,417.18 489.83,416.26 490.27,415.34 490.71,414.43 491.15,413.54 491.59,412.68 492.03,411.87 492.47,411.13 492.92,410.46 493.36,409.89 493.80,409.43 494.24,409.08 494.68,408.85 495.12,408.74 495.56,408.75 496.00,408.86 496.44,409.07 496.88,409.36 497.33,409.71 497.77,410.12 498.21,410.56 498.65,411.02 499.09,411.48 499.53,411.94 499.97,412.37 500.41,412.79 500.85,413.17 501.29,413.51 501.73,413.81 502.18,414.07 502.62,414.28 503.06,414.45 503.50,414.57 503.94,414.64 504.38,414.67 504.82,414.65 505.26,414.58 505.70,414.48 506.14,414.33 506.58,414.14 507.03,413.91 507.47,413.65 507.91,413.35 508.35,413.01 508.79,412.65 509.23,412.26 509.67,411.84 510.11,411.39 510.55,410.93 510.99,410.44 511.44,409.94 511.88,409.43 512.32,408.91 512.76,408.39 513.20,407.87 513.64,407.36 514.08,406.85 514.52,406.36 514.96,405.89 515.40,405.44 515.84,405.02 516.29,404.64 516.73,404.29 517.17,403.98 517.61,403.71 518.05,403.49 518.49,403.32 518.93,403.19 519.37,403.11 519.81,403.07 520.25,403.08 520.69,403.14 521.14,403.23 521.58,403.35 522.02,403.51 522.46,403.70 522.90,403.91 523.34,404.13 523.78,404.37 524.22,404.62 524.66,404.88 525.10,405.13 525.55,405.38 525.99,405.62 526.43,405.85 526.87,406.06 527.31,406.26 527.75,406.44 528.19,406.59 528.63,406.72 529.07,406.82 529.51,406.89 529.95,406.93 530.40,406.94 530.84,406.92 531.28,406.87 531.72,406.78 532.16,406.65 532.60,406.49 533.04,406.29 533.48,406.06 533.92,405.78 534.36,405.47 534.80,405.12 535.25,404.72 535.69,404.29 536.13,403.81 536.57,403.30 537.01,402.73 537.45,402.13 537.89,401.48 538.33,400.79 538.77,400.05 539.21,399.27 539.66,398.44 540.10,397.56 540.54,396.64 540.98,395.67 541.42,394.65 541.86,393.59 542.30,392.48 542.74,391.32 543.18,390.12 543.62,388.88 544.06,387.60 544.51,386.27 544.95,384.91 545.39,383.52 545.83,382.09 546.27,380.64 546.71,379.17 547.15,377.69 547.59,376.20 548.03,374.70 548.47,373.22 548.91,371.75 549.36,370.30 549.80,368.89 550.24,367.52 550.68,366.21 551.12,364.97 551.56,363.80 552.00,362.72 552.44,361.74 552.88,360.86 553.32,360.10 553.77,359.46 554.21,358.94 554.65,358.55 555.09,358.29 555.53,358.17 555.97,358.17 556.41,358.30 556.85,358.55 557.29,358.92 557.73,359.39 558.17,359.95 558.62,360.60 559.06,361.32 559.50,362.10 559.94,362.92 560.38,363.78 560.82,364.67 561.26,365.56 561.70,366.44 562.14,367.32 562.58,368.16 563.02,368.97 563.47,369.73 563.91,370.43 564.35,371.07 564.79,371.64 565.23,372.14 565.67,372.56 566.11,372.90 566.55,373.16 566.99,373.34 567.43,373.46 567.88,373.52 568.32,373.53 568.76,373.51 569.20,373.49 569.64,373.47 570.08,373.49 570.52,373.58 570.96,373.76 571.40,374.04 571.84,374.46 572.28,375.03 572.73,375.75 573.17,376.62 573.61,377.64 574.05,378.78 574.49,380.04 574.93,381.38 575.37,382.78 575.81,384.22 576.25,385.68 576.69,387.12 577.13,388.55 577.58,389.93 578.02,391.27 578.46,392.55 578.90,393.76 579.34,394.91 579.78,395.98 580.22,396.99 580.66,397.94 581.10,398.82 581.54,399.65 581.99,400.42 582.43,401.14 582.87,401.82 583.31,402.45 583.75,403.06 584.19,403.63 584.63,404.18 585.07,404.71 585.51,405.23 585.95,405.74 586.39,406.23 586.84,406.73 587.28,407.23 587.72,407.72 588.16,408.22 588.60,408.73 589.04,409.24 589.48,409.75 589.92,410.28 590.36,410.80 590.80,411.33 591.24,411.86 591.69,412.39 592.13,412.93 592.57,413.46 593.01,413.98 593.45,414.50 593.89,415.02 594.33,415.52 594.77,416.01 595.21,416.50 595.65,416.96 596.10,417.42 596.54,417.86 596.98,418.28 597.42,418.68 597.86,419.07 598.30,419.44 598.74,419.79 599.18,420.12 599.62,420.43 600.06,420.72 600.50,420.99 600.95,421.24 601.39,421.47 601.83,421.68 602.27,421.87 602.71,422.03 603.15,422.18 603.59,422.30 604.03,422.40 604.47,422.48 604.91,422.54 605.35,422.57 605.80,422.58 606.24,422.56 606.68,422.52 607.12,422.46 607.56,422.37 608.00,422.25 608.44,422.11 608.88,421.94 609.32,421.74 609.76,421.52 610.21,421.26 610.65,420.98 611.09,420.67 611.53,420.33 611.97,419.96 612.41,419.56 612.85,419.13 613.29,418.67 613.73,418.19 614.17,417.69 614.61,417.17 615.06,416.63 615.50,416.08 615.94,415.52 616.38,414.96 616.82,414.41 617.26,413.88 617.70,413.37 618.14,412.89 618.58,412.46 619.02,412.08 619.46,411.76 619.91,411.51 620.35,411.35 620.79,411.26 621.23,411.27 621.67,411.37 622.11,411.56 622.55,411.83 622.99,412.20 623.43,412.64 623.87,413.16 624.32,413.74 624.76,414.37 625.20,415.04 625.64,415.76 626.08,416.49 626.52,417.25 626.96,418.01 627.40,418.78 627.84,419.54 628.28,420.29 628.72,421.03 629.17,421.75 629.61,422.45 630.05,423.13 630.49,423.79 630.93,424.42 631.37,425.03 631.81,425.61 632.25,426.17 632.69,426.70 633.13,427.21 633.57,427.70 634.02,428.16 634.46,428.61 634.90,429.03 635.34,429.43 635.78,429.82 636.22,430.18 636.66,430.53 637.10,430.86 637.54,431.18 637.98,431.48 638.43,431.77 638.87,432.05 639.31,432.31 639.75,432.56 640.19,432.80 640.63,433.03 641.07,433.25 641.51,433.46 641.95,433.67 642.39,433.86 642.83,434.05 643.28,434.22 643.72,434.39 644.16,434.56 644.60,434.72 645.04,434.87 645.48,435.02 645.92,435.16 646.36,435.29 646.80,435.42 647.24,435.55 647.68,435.67 648.13,435.79 648.57,435.90 649.01,436.01 649.45,436.11 649.89,436.22 650.33,436.32 650.77,436.41 651.21,436.50 651.65,436.59 652.09,436.68 652.54,436.77 652.98,436.85 653.42,436.93 653.86,437.00 654.30,437.08 654.74,437.15 655.18,437.22 655.62,437.29 656.06,437.36 656.50,437.42 656.94,437.48 657.39,437.55 657.83,437.61 658.27,437.66 658.71,437.72 659.15,437.78 659.59,437.83 660.03,437.88 660.47,437.93 660.91,437.98 661.35,438.03 661.79,438.08 662.24,438.13 662.68,438.17 663.12,438.22 663.56,438.26 664.00,438.30 664.44,438.35 664.88,438.39 665.32,438.43 665.76,438.46 666.20,438.50 666.65,438.54 667.09,438.58 667.53,438.61 667.97,438.65 668.41,438.68 668.85,438.72 669.29,438.75 669.73,438.78 670.17,438.81 670.61,438.84 671.05,438.87 671.50,438.90 671.94,438.93 672.38,438.96 672.82,438.99 673.26,439.02 673.70,439.04" fill="none" stroke="#0000ff" stroke-width="1.5" stroke-linejoin="round"/>
<polyline clip-path="url(#cs4)" points="391.50,440.48 391.94,440.48 392.38,440.47 392.82,440.46 393.26,440.45 393.70,440.44 394.15,440.44 394.59,440.43 395.03,440.42 395.47,440.41 395.91,440.40 396.35,440.39 396.79,440.38 397.23,440.37 397.67,440.36 398.11,440.35 398.56,440.35 399.00,440.34 399.44,440.33 399.88,440.32 400.32,440.31 400.76,440.30 401.20,440.28 401.64,440.27 402.08,440.26 402.52,440.25 402.96,440.24 403.41,440.23 403.85,440.22 404.29,440.21 404.73,440.19 405.17,440.18 405.61,440.17 406.05,440.16 406.49,440.14 406.93,440.13 407.37,440.12 407.81,440.10 408.26,440.09 408.70,440.08 409.14,440.06 409.58,440.05 410.02,440.03 410.46,440.02 410.90,440.00 411.34,439.98 411.78,439.97 412.22,439.95 412.67,439.93 413.11,439.91 413.55,439.90 413.99,439.88 414.43,439.86 414.87,439.84 415.31,439.82 415.75,439.80 416.19,439.78 416.63,439.76 417.07,439.73 417.52,439.71 417.96,439.69 418.40,439.66 418.84,439.64 419.28,439.61 419.72,439.59 420.16,439.56 420.60,439.53 421.04,439.50 421.48,439.47 421.92,439.44 422.37,439.40 422.81,439.37 423.25,439.34 423.69,439.30 424.13,439.26 424.57,439.22 425.01,439.18 425.45,439.14 425.89,439.09 426.33,439.05 426.78,439.00 427.22,438.95 427.66,438.90 428.10,438.84 428.54,438.78 428.98,438.72 429.42,438.66 429.86,438.60 430.30,438.53 430.74,438.46 431.18,438.39 431.63,438.31 432.07,438.24 432.51,438.16 432.95,438.08 433.39,437.99 433.83,437.91 434.27,437.82 434.71,437.74 435.15,437.65 435.59,437.56 436.03,437.48 436.48,437.40 436.92,437.32 437.36,437.25 437.80,437.19 438.24,437.13 438.68,437.07 439.12,437.03 439.56,436.99 440.00,436.96 440.44,436.94 440.89,436.93 441.33,436.92 441.77,436.92 442.21,436.93 442.65,436.94 443.09,436.96 443.53,436.97 443.97,436.99 444.41,437.01 444.85,437.03 445.29,437.05 445.74,437.07 446.18,437.08 446.62,437.09 447.06,437.10 447.50,437.11 447.94,437.11 448.38,437.10 448.82,437.10 449.26,437.09 449.70,437.07 450.14,437.05 450.59,437.02 451.03,437.00 451.47,436.96 451.91,436.92 452.35,436.88 452.79,436.83 453.23,436.78 453.67,436.72 454.11,436.66 454.55,436.59 455.00,436.52 455.44,436.44 455.88,436.36 456.32,436.28 456.76,436.18 457.20,436.09 457.64,435.99 458.08,435.89 458.52,435.78 458.96,435.68 459.40,435.57 459.85,435.45 460.29,435.34 460.73,435.23 461.17,435.12 461.61,435.02 462.05,434.91 462.49,434.82 462.93,434.73 463.37,434.64 463.81,434.56 464.25,434.49 464.70,434.43 465.14,434.37 465.58,434.32 466.02,434.27 466.46,434.23 466.90,434.19 467.34,434.16 467.78,434.12 468.22,434.09 468.66,434.05 469.11,434.01 469.55,433.97 469.99,433.92 470.43,433.87 470.87,433.81 471.31,433.74 471.75,433.67 472.19,433.59 472.63,433.50 473.07,433.40 473.51,433.30 473.96,433.18 474.40,433.06 474.84,432.92 475.28,432.77 475.72,432.62 476.16,432.45 476.60,432.27 477.04,432.08 477.48,431.87 477.92,431.65 478.36,431.42 478.81,431.17 479.25,430.91 479.69,430.63 480.13,430.34 480.57,430.02 481.01,429.69 481.45,429.34 481.89,428.97 482.33,428.57 482.77,428.16 483.22,427.71 483.66,427.25 484.10,426.75 484.54,426.23 484.98,425.68 485.42,425.10 485.86,424.49 486.30,423.86 486.74,423.19 487.18,422.49 487.62,421.76 488.07,421.01 488.51,420.24 488.95,419.44 489.39,418.64 489.83,417.82 490.27,417.00 490.71,416.19 491.15,415.40 491.59,414.64 492.03,413.91 492.47,413.24 492.92,412.64 493.36,412.11 493.80,411.67 494.24,411.32 494.68,411.06 495.12,410.91 495.56,410.86 496.00,410.89 496.44,411.02 496.88,411.23 497.33,411.50 497.77,411.83 498.21,412.20 498.65,412.60 499.09,413.01 499.53,413.44 499.97,413.86 500.41,414.27 500.85,414.66 501.29,415.02 501.73,415.36 502.18,415.66 502.62,415.92 503.06,416.15 503.50,416.33 503.94,416.47 504.38,416.57 504.82,416.63 505.26,416.65 505.70,416.62 506.14,416.56 506.58,416.45 507.03,416.30 507.47,416.12 507.91,415.90 508.35,415.64 508.79,415.34 509.23,415.02 509.67,414.66 510.11,414.27 510.55,413.86 510.99,413.42 511.44,412.96 511.88,412.48 512.32,411.99 512.76,411.49 513.20,410.97 513.64,410.46 514.08,409.95 514.52,409.45 514.96,408.96 515.40,408.49 515.84,408.04 516.29,407.63 516.73,407.25 517.17,406.91 517.61,406.61 518.05,406.36 518.49,406.16 518.93,406.00 519.37,405.90 519.81,405.85 520.25,405.85 520.69,405.89 521.14,405.98 521.58,406.11 522.02,406.27 522.46,406.46 522.90,406.67 523.34,406.90 523.78,407.14 524.22,407.39 524.66,407.64 525.10,407.89 525.55,408.14 525.99,408.37 526.43,408.59 526.87,408.78 527.31,408.96 527.75,409.11 528.19,409.24 528.63,409.34 529.07,409.41 529.51,409.45 529.95,409.46 530.40,409.43 530.84,409.37 531.28,409.28 531.72,409.15 532.16,408.98 532.60,408.78 533.04,408.54 533.48,408.26 533.92,407.95 534.36,407.59 534.80,407.20 535.25,406.77 535.69,406.30 536.13,405.80 536.57,405.25 537.01,404.66 537.45,404.03 537.89,403.36 538.33,402.65 538.77,401.90 539.21,401.11 539.66,400.28 540.10,399.41 540.54,398.50 540.98,397.55 541.42,396.56 541.86,395.53 542.30,394.46 542.74,393.36 543.18,392.23 543.62,391.06 544.06,389.87 544.51,388.65 544.95,387.41 545.39,386.15 545.83,384.89 546.27,383.61 546.71,382.33 547.15,381.06 547.59,379.79 548.03,378.55 548.47,377.33 548.91,376.15 549.36,375.01 549.80,373.93 550.24,372.90 550.68,371.94 551.12,371.06 551.56,370.26 552.00,369.55 552.44,368.94 552.88,368.43 553.32,368.02 553.77,367.72 554.21,367.52 554.65,367.43 555.09,367.44 555.53,367.56 555.97,367.77 556.41,368.07 556.85,368.45 557.29,368.91 557.73,369.43 558.17,370.01 558.62,370.64 559.06,371.30 559.50,371.99 559.94,372.70 560.38,373.41 560.82,374.13 561.26,374.83 561.70,375.51 562.14,376.17 562.58,376.79 563.02,377.38 563.47,377.91 563.91,378.40 564.35,378.84 564.79,379.22 565.23,379.55 565.67,379.82 566.11,380.04 566.55,380.21 566.99,380.33 567.43,380.42 567.88,380.49 568.32,380.53 568.76,380.58 569.20,380.63 569.64,380.70 570.08,380.81 570.52,380.98 570.96,381.21 571.40,381.53 571.84,381.93 572.28,382.42 572.73,383.02 573.17,383.71 573.61,384.50 574.05,385.37 574.49,386.32 574.93,387.34 575.37,388.40 575.81,389.51 576.25,390.64 576.69,391.78 577.13,392.92 577.58,394.04 578.02,395.15 578.46,396.22 578.90,397.27 579.34,398.27 579.78,399.23 580.22,400.15 580.66,401.03 581.10,401.86 581.54,402.65 581.99,403.40 582.43,404.11 582.87,404.78 583.31,405.42 583.75,406.04 584.19,406.62 584.63,407.19 585.07,407.74 585.51,408.27 585.95,408.79 586.39,409.30 586.84,409.81 587.28,410.30 587.72,410.80 588.16,411.30 588.60,411.79 589.04,412.28 589.48,412.78 589.92,413.27 590.36,413.77 590.80,414.26 591.24,414.75 591.69,415.24 592.13,415.73 592.57,416.21 593.01,416.69 593.45,417.15 593.89,417.61 594.33,418.06 594.77,418.49 595.21,418.92 595.65,419.33 596.10,419.72 596.54,420.10 596.98,420.47 597.42,420.82 597.86,421.15 598.30,421.46 598.74,421.76 599.18,422.03 599.62,422.29 600.06,422.53 600.50,422.75 600.95,422.95 601.39,423.13 601.83,423.30 602.27,423.44 602.71,423.56 603.15,423.66 603.59,423.74 604.03,423.79 604.47,423.83 604.91,423.84 605.35,423.83 605.80,423.80 606.24,423.75 606.68,423.67 607.12,423.56 607.56,423.43 608.00,423.27 608.44,423.09 608.88,422.88 609.32,422.64 609.76,422.38 610.21,422.08 610.65,421.76 611.09,421.41 611.53,421.03 611.97,420.63 612.41,420.20 612.85,419.75 613.29,419.27 613.73,418.78 614.17,418.28 614.61,417.76 615.06,417.24 615.50,416.73 615.94,416.22 616.38,415.74 616.82,415.28 617.26,414.86 617.70,414.49 618.14,414.17 618.58,413.92 619.02,413.74 619.46,413.64 619.91,413.63 620.35,413.70 620.79,413.86 621.23,414.11 621.67,414.44 622.11,414.85 622.55,415.33 622.99,415.86 623.43,416.45 623.87,417.09 624.32,417.76 624.76,418.45 625.20,419.16 625.64,419.87 626.08,420.59 626.52,421.30 626.96,422.01 627.40,422.70 627.84,423.37 628.28,424.03 628.72,424.66 629.17,425.27 629.61,425.86 630.05,426.42 630.49,426.96 630.93,427.48 631.37,427.97 631.81,428.45 632.25,428.89 632.69,429.32 633.13,429.73 633.57,430.12 634.02,430.49 634.46,430.84 634.90,431.18 635.34,431.49 635.78,431.80 636.22,432.09 636.66,432.36 637.10,432.63 637.54,432.88 637.98,433.12 638.43,433.35 638.87,433.57 639.31,433.78 639.75,433.98 640.19,434.17 640.63,434.35 641.07,434.53 641.51,434.70 641.95,434.86 642.39,435.02 642.83,435.17 643.28,435.31 643.72,435.45 644.16,435.58 644.60,435.71 645.04,435.83 645.48,435.95 645.92,436.06 646.36,436.17 646.80,436.28 647.24,436.38 647.68,436.48 648.13,436.58 648.57,436.67 649.01,436.76 649.45,436.85 649.89,436.93 650.33,437.01 650.77,437.09 651.21,437.17 651.65,437.24 652.09,437.31 652.54,437.38 652.98,437.45 653.42,437.52 653.86,437.58 654.30,437.64 654.74,437.70 655.18,437.76 655.62,437.82 656.06,437.88 656.50,437.93 656.94,437.98 657.39,438.04 657.83,438.09 658.27,438.14 658.71,438.18 659.15,438.23 659.59,438.28 660.03,438.32 660.47,438.36 660.91,438.41 661.35,438.45 661.79,438.49 662.24,438.53 662.68,438.57 663.12,438.60 663.56,438.64 664.00,438.68 664.44,438.71 664.88,438.75 665.32,438.78 665.76,438.82 666.20,438.85 666.65,438.88 667.09,438.91 667.53,438.94 667.97,438.97 668.41,439.00 668.85,439.03 669.29,439.06 669.73,439.09 670.17,439.11 670.61,439.14 671.05,439.17 671.50,439.19 671.94,439.22 672.38,439.24 672.82,439.27 673.26,439.29 673.70,439.32" fill="none" stroke="#ff0000" stroke-width="1.5" stroke-linejoin="round"/>
<text transform="translate(391.50,461.15) scale(0.97,1.07)" font-size="15.6" text-anchor="middle" fill="#262626">1.4</text>
<text transform="translate(426.78,461.15) scale(0.97,1.07)" font-size="15.6" text-anchor="middle" fill="#262626">1.5</text>
<text transform="translate(462.05,461.15) scale(0.97,1.07)" font-size="15.6" text-anchor="middle" fill="#262626">1.6</text>
<text transform="translate(497.33,461.15) scale(0.97,1.07)" font-size="15.6" text-anchor="middle" fill="#262626">1.7</text>
<text transform="translate(532.60,461.15) scale(0.97,1.07)" font-size="15.6" text-anchor="middle" fill="#262626">1.8</text>
<text transform="translate(567.88,461.15) scale(0.97,1.07)" font-size="15.6" text-anchor="middle" fill="#262626">1.9</text>
<text transform="translate(603.15,461.15) scale(0.97,1.07)" font-size="15.6" text-anchor="middle" fill="#262626">2</text>
<text transform="translate(638.43,461.15) scale(0.97,1.07)" font-size="15.6" text-anchor="middle" fill="#262626">2.1</text>
<text transform="translate(673.70,461.15) scale(0.97,1.07)" font-size="15.6" text-anchor="middle" fill="#262626">2.2</text>
<text transform="translate(385.60,413.40) scale(0.97,1.07)" font-size="15.6" text-anchor="end" fill="#262626">0.2</text>
<text transform="translate(385.60,380.20) scale(0.97,1.07)" font-size="15.6" text-anchor="end" fill="#262626">0.4</text>
<text transform="translate(385.60,347.00) scale(0.97,1.07)" font-size="15.6" text-anchor="end" fill="#262626">0.6</text>
<text transform="translate(385.60,313.80) scale(0.97,1.07)" font-size="15.6" text-anchor="end" fill="#262626">0.8</text>
<text transform="translate(385.60,280.60) scale(0.97,1.07)" font-size="15.6" text-anchor="end" fill="#262626">1</text>
<g transform="translate(463.40,482.60) scale(1.0048,1.0)"><text fill="#262626" font-size="17.1">Photon Energy [eV]</text></g>
<g transform="translate(359.60,440.60) rotate(-90) scale(1.0034,1)"><text fill="#262626" font-size="17.1">EL Intensity [arb. units]</text></g>
<g transform="translate(399.47,266.20) scale(1.0579,1.07)"><text fill="#000" font-size="16.6"><tspan font-style="italic">ħg</tspan><tspan font-size="10.96" dy="2.6">00</tspan></text></g>
<path d="M430.10 260.25H441.30M430.10 263.35H441.30" stroke="#000" stroke-width="0.8"/>
<g transform="translate(443.19,266.20) scale(1.0735,1.07)"><text fill="#000" font-size="16.6">30meV,</text></g>
<g transform="translate(503.63,266.20) scale(1.1313,1.07)"><text fill="#000" font-size="16.6" font-style="italic">ħκ</text></g>
<path d="M523.70 260.25H535.00M523.70 263.35H535.00" stroke="#000" stroke-width="0.8"/>
<g transform="translate(536.09,266.20) scale(1.0756,1.07)"><text fill="#000" font-size="16.6">10meV,</text></g>
<g transform="translate(597.15,266.20) scale(1.2947,1.07)"><text fill="#000" font-size="16.6">Δ</text></g>
<path d="M611.80 260.25H623.00M611.80 263.35H623.00" stroke="#000" stroke-width="0.8"/>
<g transform="translate(623.98,266.20) scale(1.0375,1.07)"><text fill="#000" font-size="16.6">0meV</text></g>
<rect x="403.70" y="287.50" width="111.0" height="60.9" fill="#fff" stroke="#262626" stroke-width="0.65"/>
<path d="M411.30 299.30H449.40" stroke="#000000" stroke-width="1.3"/>
<g transform="translate(453.01,302.80) scale(1.0500,1.05)"><text fill="#000" font-size="15.1" font-style="italic">V</text></g>
<g transform="translate(461.96,305.40) scale(0.9474,1.0)"><text fill="#000" font-size="10.57" font-style="italic">b</text></g>
<path d="M468.30 297.40H478.30M468.30 300.40H478.30" stroke="#000" stroke-width="0.8"/>
<g transform="translate(478.99,302.80) scale(1.0256,1.05)"><text fill="#000" font-size="15.1">2.5V</text></g>
<path d="M411.30 318.00H449.40" stroke="#0000ff" stroke-width="1.3"/>
<g transform="translate(453.01,321.65) scale(1.0500,1.05)"><text fill="#000" font-size="15.1" font-style="italic">V</text></g>
<g transform="translate(461.96,324.25) scale(0.9474,1.0)"><text fill="#000" font-size="10.57" font-style="italic">b</text></g>
<path d="M468.30 316.25H478.30M468.30 319.25H478.30" stroke="#000" stroke-width="0.8"/>
<g transform="translate(478.18,321.65) scale(1.0526,1.05)"><text fill="#000" font-size="15.1">1.9V</text></g>
<path d="M411.30 336.70H449.40" stroke="#ff0000" stroke-width="1.3"/>
<g transform="translate(453.01,340.50) scale(1.0500,1.05)"><text fill="#000" font-size="15.1" font-style="italic">V</text></g>
<g transform="translate(461.96,343.10) scale(0.9474,1.0)"><text fill="#000" font-size="10.57" font-style="italic">b</text></g>
<path d="M468.30 335.10H478.30M468.30 338.10H478.30" stroke="#000" stroke-width="0.8"/>
<g transform="translate(478.18,340.50) scale(1.0526,1.05)"><text fill="#000" font-size="15.1">1.8V</text></g>
</g></svg></body></html>
